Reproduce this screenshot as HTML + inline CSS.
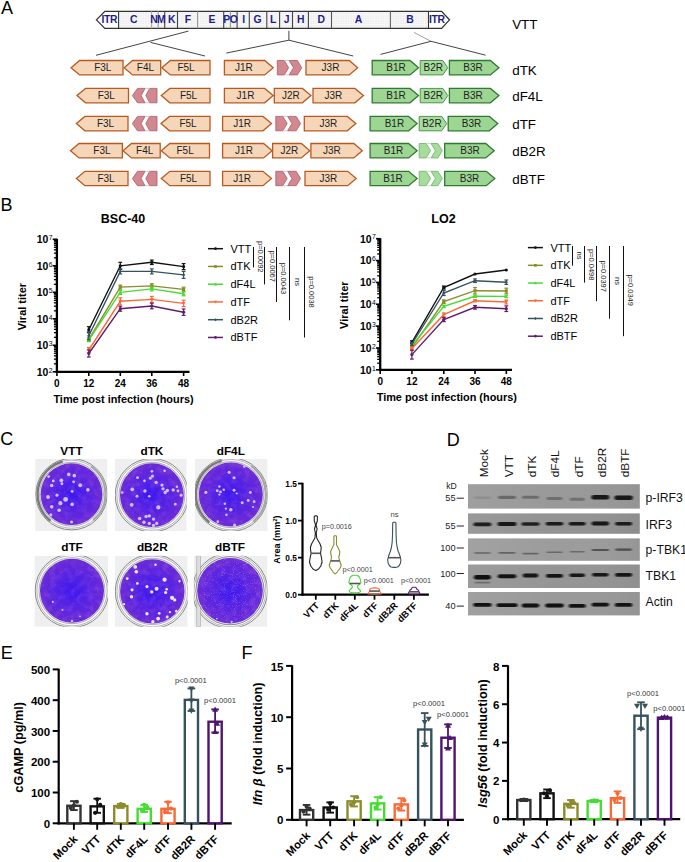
<!DOCTYPE html>
<html><head><meta charset="utf-8"><style>
html,body{margin:0;padding:0;background:#fff;}
svg{display:block;font-family:"Liberation Sans",sans-serif;}
</style></head><body>
<svg width="685" height="862" viewBox="0 0 685 862">
<rect width="685" height="862" fill="#fff"/>
<text x="1.00" y="13.90" font-size="18" text-anchor="start" fill="#000" >A</text>
<text x="0.60" y="210.80" font-size="18" text-anchor="start" fill="#000" >B</text>
<text x="0.30" y="444.90" font-size="18" text-anchor="start" fill="#000" >C</text>
<text x="446.70" y="445.80" font-size="18" text-anchor="start" fill="#000" >D</text>
<text x="0.80" y="659.30" font-size="18" text-anchor="start" fill="#000" >E</text>
<text x="241.60" y="659.30" font-size="18" text-anchor="start" fill="#000" >F</text>
<defs><pattern id="dots" width="2.5" height="2.5" patternUnits="userSpaceOnUse"><rect width="2.5" height="2.5" fill="#f7f7f7"/><rect x="0.5" y="0.5" width="1" height="1" fill="#e0e0e0"/></pattern></defs>
<polygon points="118.60,11.30 428.50,11.30 428.50,28.40 118.60,28.40" fill="url(#dots)" stroke="none" stroke-width="1" />
<polygon points="96.40,19.85 104.80,11.30 441.60,11.30 449.50,19.85 441.60,28.40 104.80,28.40" fill="none" stroke="#333" stroke-width="1.3" />
<line x1="118.60" y1="11.30" x2="118.60" y2="28.40" stroke="#333" stroke-width="1.1" />
<line x1="151.60" y1="11.30" x2="151.60" y2="28.40" stroke="#aaa" stroke-width="1.1" />
<line x1="158.20" y1="11.30" x2="158.20" y2="28.40" stroke="#999" stroke-width="1.1" />
<line x1="164.70" y1="11.30" x2="164.70" y2="28.40" stroke="#444" stroke-width="1.1" />
<line x1="177.50" y1="11.30" x2="177.50" y2="28.40" stroke="#444" stroke-width="1.1" />
<line x1="197.60" y1="11.30" x2="197.60" y2="28.40" stroke="#999" stroke-width="1.1" />
<line x1="223.70" y1="11.30" x2="223.70" y2="28.40" stroke="#444" stroke-width="1.1" />
<line x1="230.40" y1="11.30" x2="230.40" y2="28.40" stroke="#999" stroke-width="1.1" />
<line x1="237.10" y1="11.30" x2="237.10" y2="28.40" stroke="#444" stroke-width="1.1" />
<line x1="249.30" y1="11.30" x2="249.30" y2="28.40" stroke="#444" stroke-width="1.1" />
<line x1="266.80" y1="11.30" x2="266.80" y2="28.40" stroke="#444" stroke-width="1.1" />
<line x1="279.60" y1="11.30" x2="279.60" y2="28.40" stroke="#444" stroke-width="1.1" />
<line x1="292.50" y1="11.30" x2="292.50" y2="28.40" stroke="#444" stroke-width="1.1" />
<line x1="308.40" y1="11.30" x2="308.40" y2="28.40" stroke="#444" stroke-width="1.1" />
<line x1="331.50" y1="11.30" x2="331.50" y2="28.40" stroke="#555" stroke-width="1.1" />
<line x1="390.40" y1="11.30" x2="390.40" y2="28.40" stroke="#666" stroke-width="1.1" />
<line x1="428.50" y1="11.30" x2="428.50" y2="28.40" stroke="#333" stroke-width="1.1" />
<text x="109.40" y="22.80" font-size="10.4" font-weight="bold" text-anchor="middle" fill="#1d1d8c" letter-spacing="-0.35">ITR</text>
<text x="133.80" y="22.80" font-size="10.4" font-weight="bold" text-anchor="middle" fill="#1d1d8c" >C</text>
<text x="154.00" y="22.80" font-size="10.4" font-weight="bold" text-anchor="middle" fill="#1d1d8c" >N</text>
<text x="161.30" y="22.80" font-size="10.4" font-weight="bold" text-anchor="middle" fill="#1d1d8c" >M</text>
<text x="171.70" y="22.80" font-size="10.4" font-weight="bold" text-anchor="middle" fill="#1d1d8c" >K</text>
<text x="188.00" y="22.80" font-size="10.4" font-weight="bold" text-anchor="middle" fill="#1d1d8c" >F</text>
<text x="212.00" y="22.80" font-size="10.4" font-weight="bold" text-anchor="middle" fill="#1d1d8c" >E</text>
<text x="226.80" y="22.80" font-size="10.4" font-weight="bold" text-anchor="middle" fill="#1d1d8c" >P</text>
<text x="233.80" y="22.80" font-size="10.4" font-weight="bold" text-anchor="middle" fill="#1d1d8c" >O</text>
<text x="243.80" y="22.80" font-size="10.4" font-weight="bold" text-anchor="middle" fill="#1d1d8c" >I</text>
<text x="257.50" y="22.80" font-size="10.4" font-weight="bold" text-anchor="middle" fill="#1d1d8c" >G</text>
<text x="273.20" y="22.80" font-size="10.4" font-weight="bold" text-anchor="middle" fill="#1d1d8c" >L</text>
<text x="286.70" y="22.80" font-size="10.4" font-weight="bold" text-anchor="middle" fill="#1d1d8c" >J</text>
<text x="300.70" y="22.80" font-size="10.4" font-weight="bold" text-anchor="middle" fill="#1d1d8c" >H</text>
<text x="321.30" y="22.80" font-size="10.4" font-weight="bold" text-anchor="middle" fill="#1d1d8c" >D</text>
<text x="358.40" y="22.80" font-size="10.4" font-weight="bold" text-anchor="middle" fill="#1d1d8c" >A</text>
<text x="410.00" y="22.80" font-size="10.4" font-weight="bold" text-anchor="middle" fill="#1d1d8c" >B</text>
<text x="436.90" y="22.80" font-size="10.4" font-weight="bold" text-anchor="middle" fill="#1d1d8c" letter-spacing="-0.35">ITR</text>
<text x="512.20" y="28.90" font-size="13.4" text-anchor="start" fill="#000" >VTT</text>
<line x1="188.40" y1="31.10" x2="96.00" y2="55.30" stroke="#444" stroke-width="1" />
<line x1="150.50" y1="42.40" x2="205.00" y2="56.00" stroke="#444" stroke-width="1" />
<line x1="288.90" y1="30.80" x2="288.90" y2="40.20" stroke="#444" stroke-width="1" />
<line x1="288.90" y1="40.20" x2="226.30" y2="53.10" stroke="#444" stroke-width="1" />
<line x1="288.90" y1="40.20" x2="353.20" y2="56.00" stroke="#444" stroke-width="1" />
<line x1="413.90" y1="32.40" x2="431.00" y2="41.30" stroke="#888" stroke-width="0.8" />
<line x1="431.00" y1="41.30" x2="380.50" y2="54.40" stroke="#444" stroke-width="1" />
<line x1="431.00" y1="41.30" x2="485.60" y2="55.20" stroke="#444" stroke-width="1" />
<polygon points="71.10,67.70 79.60,60.50 123.00,60.50 123.00,74.90 79.60,74.90" fill="#f6d6b8" stroke="#b65a22" stroke-width="1.3" />
<text x="102.80" y="71.30" font-size="10" text-anchor="middle" fill="#222" >F3L</text>
<polygon points="124.10,67.70 132.60,60.50 160.70,60.50 160.70,74.90 132.60,74.90" fill="#f6d6b8" stroke="#b65a22" stroke-width="1.3" />
<text x="145.40" y="71.30" font-size="10" text-anchor="middle" fill="#222" >F4L</text>
<polygon points="161.80,67.70 170.30,60.50 210.00,60.50 210.00,74.90 170.30,74.90" fill="#f6d6b8" stroke="#b65a22" stroke-width="1.3" />
<text x="186.00" y="71.30" font-size="10" text-anchor="middle" fill="#222" >F5L</text>
<polygon points="224.40,60.50 264.70,60.50 273.20,67.70 264.70,74.90 224.40,74.90" fill="#f6d6b8" stroke="#b65a22" stroke-width="1.3" />
<text x="243.90" y="71.30" font-size="10" text-anchor="middle" fill="#222" >J1R</text>
<polygon points="306.00,60.50 349.20,60.50 357.70,67.70 349.20,74.90 306.00,74.90" fill="#f6d6b8" stroke="#b65a22" stroke-width="1.3" />
<text x="330.50" y="71.30" font-size="10" text-anchor="middle" fill="#222" >J3R</text>
<polygon points="277.30,60.50 284.30,60.50 288.70,67.70 284.30,74.90 277.30,74.90" fill="#d3878e" stroke="#a85c68" stroke-width="0.8" />
<polygon points="289.10,60.50 297.40,60.50 301.80,67.70 297.40,74.90 289.10,74.90 293.50,67.70" fill="#d3878e" stroke="#a85c68" stroke-width="0.8" />
<line x1="284.30" y1="60.50" x2="289.10" y2="60.50" stroke="#d8b8bc" stroke-width="0.8" />
<line x1="284.30" y1="74.90" x2="289.10" y2="74.90" stroke="#d8b8bc" stroke-width="0.8" />
<polygon points="372.20,60.50 410.00,60.50 418.50,67.70 410.00,74.90 372.20,74.90" fill="#9dd693" stroke="#2f7a30" stroke-width="1.3" />
<text x="396.00" y="71.30" font-size="10" text-anchor="middle" fill="#222" >B1R</text>
<polygon points="420.20,60.50 442.80,60.50 447.80,67.70 442.80,74.90 420.20,74.90" fill="#a6dc9c" stroke="#4f944c" stroke-width="1.0" />
<text x="433.30" y="71.30" font-size="10" text-anchor="middle" fill="#222" >B2R</text>
<polygon points="449.40,60.50 490.40,60.50 498.90,67.70 490.40,74.90 449.40,74.90" fill="#9dd693" stroke="#2f7a30" stroke-width="1.3" />
<text x="473.00" y="71.30" font-size="10" text-anchor="middle" fill="#222" >B3R</text>
<text x="512.20" y="74.60" font-size="13.4" text-anchor="start" fill="#000" >dTK</text>
<polygon points="77.00,95.60 85.50,88.40 128.50,88.40 128.50,102.80 85.50,102.80" fill="#f6d6b8" stroke="#b65a22" stroke-width="1.3" />
<text x="106.30" y="99.20" font-size="10" text-anchor="middle" fill="#222" >F3L</text>
<polygon points="161.30,95.60 169.80,88.40 210.00,88.40 210.00,102.80 169.80,102.80" fill="#f6d6b8" stroke="#b65a22" stroke-width="1.3" />
<text x="188.50" y="99.20" font-size="10" text-anchor="middle" fill="#222" >F5L</text>
<polygon points="132.40,95.60 137.50,88.40 145.00,88.40 141.10,95.60 145.00,102.80 137.50,102.80" fill="#d3878e" stroke="#a85c68" stroke-width="0.8" />
<polygon points="145.80,95.60 149.70,88.40 157.00,88.40 157.00,102.80 149.70,102.80" fill="#d3878e" stroke="#a85c68" stroke-width="0.8" />
<line x1="145.00" y1="88.40" x2="149.70" y2="88.40" stroke="#d8b8bc" stroke-width="0.8" />
<line x1="145.00" y1="102.80" x2="149.70" y2="102.80" stroke="#d8b8bc" stroke-width="0.8" />
<polygon points="224.40,88.40 264.70,88.40 273.20,95.60 264.70,102.80 224.40,102.80" fill="#f6d6b8" stroke="#b65a22" stroke-width="1.3" />
<text x="245.50" y="99.20" font-size="10" text-anchor="middle" fill="#222" >J1R</text>
<polygon points="274.30,88.40 302.40,88.40 310.90,95.60 302.40,102.80 274.30,102.80" fill="#f6d6b8" stroke="#b65a22" stroke-width="1.3" />
<text x="290.80" y="99.20" font-size="10" text-anchor="middle" fill="#222" >J2R</text>
<polygon points="313.00,88.40 354.90,88.40 363.40,95.60 354.90,102.80 313.00,102.80" fill="#f6d6b8" stroke="#b65a22" stroke-width="1.3" />
<text x="333.40" y="99.20" font-size="10" text-anchor="middle" fill="#222" >J3R</text>
<polygon points="372.20,88.40 410.00,88.40 418.50,95.60 410.00,102.80 372.20,102.80" fill="#9dd693" stroke="#2f7a30" stroke-width="1.3" />
<text x="396.00" y="99.20" font-size="10" text-anchor="middle" fill="#222" >B1R</text>
<polygon points="420.20,88.40 442.80,88.40 447.80,95.60 442.80,102.80 420.20,102.80" fill="#a6dc9c" stroke="#4f944c" stroke-width="1.0" />
<text x="433.30" y="99.20" font-size="10" text-anchor="middle" fill="#222" >B2R</text>
<polygon points="449.40,88.40 490.40,88.40 498.90,95.60 490.40,102.80 449.40,102.80" fill="#9dd693" stroke="#2f7a30" stroke-width="1.3" />
<text x="473.00" y="99.20" font-size="10" text-anchor="middle" fill="#222" >B3R</text>
<text x="512.20" y="101.00" font-size="13.4" text-anchor="start" fill="#000" >dF4L</text>
<polygon points="76.40,123.60 84.90,116.40 128.00,116.40 128.00,130.80 84.90,130.80" fill="#f6d6b8" stroke="#b65a22" stroke-width="1.3" />
<text x="105.50" y="127.20" font-size="10" text-anchor="middle" fill="#222" >F3L</text>
<polygon points="161.00,123.60 169.50,116.40 210.00,116.40 210.00,130.80 169.50,130.80" fill="#f6d6b8" stroke="#b65a22" stroke-width="1.3" />
<text x="188.00" y="127.20" font-size="10" text-anchor="middle" fill="#222" >F5L</text>
<polygon points="132.40,123.60 137.50,116.40 145.00,116.40 141.10,123.60 145.00,130.80 137.50,130.80" fill="#d3878e" stroke="#a85c68" stroke-width="0.8" />
<polygon points="145.80,123.60 149.70,116.40 157.00,116.40 157.00,130.80 149.70,130.80" fill="#d3878e" stroke="#a85c68" stroke-width="0.8" />
<line x1="145.00" y1="116.40" x2="149.70" y2="116.40" stroke="#d8b8bc" stroke-width="0.8" />
<line x1="145.00" y1="130.80" x2="149.70" y2="130.80" stroke="#d8b8bc" stroke-width="0.8" />
<polygon points="222.60,116.40 263.00,116.40 271.50,123.60 263.00,130.80 222.60,130.80" fill="#f6d6b8" stroke="#b65a22" stroke-width="1.3" />
<text x="242.20" y="127.20" font-size="10" text-anchor="middle" fill="#222" >J1R</text>
<polygon points="304.30,116.40 347.30,116.40 355.80,123.60 347.30,130.80 304.30,130.80" fill="#f6d6b8" stroke="#b65a22" stroke-width="1.3" />
<text x="328.40" y="127.20" font-size="10" text-anchor="middle" fill="#222" >J3R</text>
<polygon points="275.80,116.40 282.80,116.40 287.20,123.60 282.80,130.80 275.80,130.80" fill="#d3878e" stroke="#a85c68" stroke-width="0.8" />
<polygon points="287.60,116.40 296.20,116.40 300.60,123.60 296.20,130.80 287.60,130.80 292.00,123.60" fill="#d3878e" stroke="#a85c68" stroke-width="0.8" />
<line x1="282.80" y1="116.40" x2="287.60" y2="116.40" stroke="#d8b8bc" stroke-width="0.8" />
<line x1="282.80" y1="130.80" x2="287.60" y2="130.80" stroke="#d8b8bc" stroke-width="0.8" />
<polygon points="370.10,116.40 408.60,116.40 417.10,123.60 408.60,130.80 370.10,130.80" fill="#9dd693" stroke="#2f7a30" stroke-width="1.3" />
<text x="394.40" y="127.20" font-size="10" text-anchor="middle" fill="#222" >B1R</text>
<polygon points="419.20,116.40 441.70,116.40 446.70,123.60 441.70,130.80 419.20,130.80" fill="#a6dc9c" stroke="#4f944c" stroke-width="1.0" />
<text x="431.90" y="127.20" font-size="10" text-anchor="middle" fill="#222" >B2R</text>
<polygon points="448.20,116.40 489.30,116.40 497.80,123.60 489.30,130.80 448.20,130.80" fill="#9dd693" stroke="#2f7a30" stroke-width="1.3" />
<text x="471.60" y="127.20" font-size="10" text-anchor="middle" fill="#222" >B3R</text>
<text x="512.20" y="128.90" font-size="13.4" text-anchor="start" fill="#000" >dTF</text>
<polygon points="70.50,150.70 79.00,143.50 122.40,143.50 122.40,157.90 79.00,157.90" fill="#f6d6b8" stroke="#b65a22" stroke-width="1.3" />
<text x="101.90" y="154.30" font-size="10" text-anchor="middle" fill="#222" >F3L</text>
<polygon points="123.00,150.70 131.50,143.50 160.20,143.50 160.20,157.90 131.50,157.90" fill="#f6d6b8" stroke="#b65a22" stroke-width="1.3" />
<text x="144.70" y="154.30" font-size="10" text-anchor="middle" fill="#222" >F4L</text>
<polygon points="161.30,150.70 169.80,143.50 209.50,143.50 209.50,157.90 169.80,157.90" fill="#f6d6b8" stroke="#b65a22" stroke-width="1.3" />
<text x="185.10" y="154.30" font-size="10" text-anchor="middle" fill="#222" >F5L</text>
<polygon points="222.60,143.50 263.60,143.50 272.10,150.70 263.60,157.90 222.60,157.90" fill="#f6d6b8" stroke="#b65a22" stroke-width="1.3" />
<text x="244.00" y="154.30" font-size="10" text-anchor="middle" fill="#222" >J1R</text>
<polygon points="272.60,143.50 301.30,143.50 309.80,150.70 301.30,157.90 272.60,157.90" fill="#f6d6b8" stroke="#b65a22" stroke-width="1.3" />
<text x="289.30" y="154.30" font-size="10" text-anchor="middle" fill="#222" >J2R</text>
<polygon points="310.90,143.50 353.80,143.50 362.30,150.70 353.80,157.90 310.90,157.90" fill="#f6d6b8" stroke="#b65a22" stroke-width="1.3" />
<text x="331.90" y="154.30" font-size="10" text-anchor="middle" fill="#222" >J3R</text>
<polygon points="370.10,143.50 408.60,143.50 417.10,150.70 408.60,157.90 370.10,157.90" fill="#9dd693" stroke="#2f7a30" stroke-width="1.3" />
<text x="393.60" y="154.30" font-size="10" text-anchor="middle" fill="#222" >B1R</text>
<polygon points="444.70,143.50 485.70,143.50 494.20,150.70 485.70,157.90 444.70,157.90" fill="#9dd693" stroke="#2f7a30" stroke-width="1.3" />
<text x="470.00" y="154.30" font-size="10" text-anchor="middle" fill="#222" >B3R</text>
<polygon points="419.20,143.50 426.20,143.50 430.60,150.70 426.20,157.90 419.20,157.90" fill="#a6dc9c" stroke="#6fae6a" stroke-width="0.8" />
<polygon points="431.00,143.50 437.90,143.50 442.30,150.70 437.90,157.90 431.00,157.90 435.40,150.70" fill="#a6dc9c" stroke="#6fae6a" stroke-width="0.8" />
<line x1="426.20" y1="143.50" x2="431.00" y2="143.50" stroke="#b8d8b4" stroke-width="0.8" />
<line x1="426.20" y1="157.90" x2="431.00" y2="157.90" stroke="#b8d8b4" stroke-width="0.8" />
<text x="512.20" y="156.00" font-size="13.4" text-anchor="start" fill="#000" >dB2R</text>
<polygon points="76.40,178.50 84.90,171.30 128.00,171.30 128.00,185.70 84.90,185.70" fill="#f6d6b8" stroke="#b65a22" stroke-width="1.3" />
<text x="106.00" y="182.10" font-size="10" text-anchor="middle" fill="#222" >F3L</text>
<polygon points="161.30,178.50 169.80,171.30 210.00,171.30 210.00,185.70 169.80,185.70" fill="#f6d6b8" stroke="#b65a22" stroke-width="1.3" />
<text x="188.50" y="182.10" font-size="10" text-anchor="middle" fill="#222" >F5L</text>
<polygon points="132.40,178.50 137.50,171.30 145.00,171.30 141.10,178.50 145.00,185.70 137.50,185.70" fill="#d3878e" stroke="#a85c68" stroke-width="0.8" />
<polygon points="145.80,178.50 149.70,171.30 157.00,171.30 157.00,185.70 149.70,185.70" fill="#d3878e" stroke="#a85c68" stroke-width="0.8" />
<line x1="145.00" y1="171.30" x2="149.70" y2="171.30" stroke="#d8b8bc" stroke-width="0.8" />
<line x1="145.00" y1="185.70" x2="149.70" y2="185.70" stroke="#d8b8bc" stroke-width="0.8" />
<polygon points="222.60,171.30 263.00,171.30 271.50,178.50 263.00,185.70 222.60,185.70" fill="#f6d6b8" stroke="#b65a22" stroke-width="1.3" />
<text x="242.20" y="182.10" font-size="10" text-anchor="middle" fill="#222" >J1R</text>
<polygon points="305.00,171.30 347.70,171.30 356.20,178.50 347.70,185.70 305.00,185.70" fill="#f6d6b8" stroke="#b65a22" stroke-width="1.3" />
<text x="328.40" y="182.10" font-size="10" text-anchor="middle" fill="#222" >J3R</text>
<polygon points="275.80,171.30 282.80,171.30 287.20,178.50 282.80,185.70 275.80,185.70" fill="#d3878e" stroke="#a85c68" stroke-width="0.8" />
<polygon points="287.60,171.30 296.20,171.30 300.60,178.50 296.20,185.70 287.60,185.70 292.00,178.50" fill="#d3878e" stroke="#a85c68" stroke-width="0.8" />
<line x1="282.80" y1="171.30" x2="287.60" y2="171.30" stroke="#d8b8bc" stroke-width="0.8" />
<line x1="282.80" y1="185.70" x2="287.60" y2="185.70" stroke="#d8b8bc" stroke-width="0.8" />
<polygon points="370.10,171.30 408.60,171.30 417.10,178.50 408.60,185.70 370.10,185.70" fill="#9dd693" stroke="#2f7a30" stroke-width="1.3" />
<text x="393.00" y="182.10" font-size="10" text-anchor="middle" fill="#222" >B1R</text>
<polygon points="444.70,171.30 486.30,171.30 494.80,178.50 486.30,185.70 444.70,185.70" fill="#9dd693" stroke="#2f7a30" stroke-width="1.3" />
<text x="469.50" y="182.10" font-size="10" text-anchor="middle" fill="#222" >B3R</text>
<polygon points="419.20,171.30 426.20,171.30 430.60,178.50 426.20,185.70 419.20,185.70" fill="#a6dc9c" stroke="#6fae6a" stroke-width="0.8" />
<polygon points="431.00,171.30 437.90,171.30 442.30,178.50 437.90,185.70 431.00,185.70 435.40,178.50" fill="#a6dc9c" stroke="#6fae6a" stroke-width="0.8" />
<line x1="426.20" y1="171.30" x2="431.00" y2="171.30" stroke="#b8d8b4" stroke-width="0.8" />
<line x1="426.20" y1="185.70" x2="431.00" y2="185.70" stroke="#b8d8b4" stroke-width="0.8" />
<text x="512.20" y="183.90" font-size="13.4" text-anchor="start" fill="#000" >dBTF</text>
<line x1="56.90" y1="238.80" x2="56.90" y2="372.90" stroke="#000" stroke-width="2.3" />
<line x1="55.75" y1="371.80" x2="189.50" y2="371.80" stroke="#000" stroke-width="2.3" />
<line x1="52.70" y1="371.80" x2="56.90" y2="371.80" stroke="#000" stroke-width="1.6" />
<text x="48.30" y="375.70" font-size="10.4" font-weight="bold" text-anchor="end" fill="#000" >10</text>
<text x="48.80" y="372.50" font-size="6.8" text-anchor="start" fill="#000" >2</text>
<line x1="53.90" y1="363.82" x2="56.90" y2="363.82" stroke="#000" stroke-width="1.3" />
<line x1="53.90" y1="359.16" x2="56.90" y2="359.16" stroke="#000" stroke-width="1.3" />
<line x1="53.90" y1="355.85" x2="56.90" y2="355.85" stroke="#000" stroke-width="1.3" />
<line x1="53.90" y1="353.28" x2="56.90" y2="353.28" stroke="#000" stroke-width="1.3" />
<line x1="53.90" y1="351.18" x2="56.90" y2="351.18" stroke="#000" stroke-width="1.3" />
<line x1="53.90" y1="349.40" x2="56.90" y2="349.40" stroke="#000" stroke-width="1.3" />
<line x1="53.90" y1="347.87" x2="56.90" y2="347.87" stroke="#000" stroke-width="1.3" />
<line x1="53.90" y1="346.51" x2="56.90" y2="346.51" stroke="#000" stroke-width="1.3" />
<line x1="52.70" y1="345.30" x2="56.90" y2="345.30" stroke="#000" stroke-width="1.6" />
<text x="48.30" y="349.20" font-size="10.4" font-weight="bold" text-anchor="end" fill="#000" >10</text>
<text x="48.80" y="346.00" font-size="6.8" text-anchor="start" fill="#000" >3</text>
<line x1="53.90" y1="337.32" x2="56.90" y2="337.32" stroke="#000" stroke-width="1.3" />
<line x1="53.90" y1="332.66" x2="56.90" y2="332.66" stroke="#000" stroke-width="1.3" />
<line x1="53.90" y1="329.35" x2="56.90" y2="329.35" stroke="#000" stroke-width="1.3" />
<line x1="53.90" y1="326.78" x2="56.90" y2="326.78" stroke="#000" stroke-width="1.3" />
<line x1="53.90" y1="324.68" x2="56.90" y2="324.68" stroke="#000" stroke-width="1.3" />
<line x1="53.90" y1="322.90" x2="56.90" y2="322.90" stroke="#000" stroke-width="1.3" />
<line x1="53.90" y1="321.37" x2="56.90" y2="321.37" stroke="#000" stroke-width="1.3" />
<line x1="53.90" y1="320.01" x2="56.90" y2="320.01" stroke="#000" stroke-width="1.3" />
<line x1="52.70" y1="318.80" x2="56.90" y2="318.80" stroke="#000" stroke-width="1.6" />
<text x="48.30" y="322.70" font-size="10.4" font-weight="bold" text-anchor="end" fill="#000" >10</text>
<text x="48.80" y="319.50" font-size="6.8" text-anchor="start" fill="#000" >4</text>
<line x1="53.90" y1="310.82" x2="56.90" y2="310.82" stroke="#000" stroke-width="1.3" />
<line x1="53.90" y1="306.16" x2="56.90" y2="306.16" stroke="#000" stroke-width="1.3" />
<line x1="53.90" y1="302.85" x2="56.90" y2="302.85" stroke="#000" stroke-width="1.3" />
<line x1="53.90" y1="300.28" x2="56.90" y2="300.28" stroke="#000" stroke-width="1.3" />
<line x1="53.90" y1="298.18" x2="56.90" y2="298.18" stroke="#000" stroke-width="1.3" />
<line x1="53.90" y1="296.40" x2="56.90" y2="296.40" stroke="#000" stroke-width="1.3" />
<line x1="53.90" y1="294.87" x2="56.90" y2="294.87" stroke="#000" stroke-width="1.3" />
<line x1="53.90" y1="293.51" x2="56.90" y2="293.51" stroke="#000" stroke-width="1.3" />
<line x1="52.70" y1="292.30" x2="56.90" y2="292.30" stroke="#000" stroke-width="1.6" />
<text x="48.30" y="296.20" font-size="10.4" font-weight="bold" text-anchor="end" fill="#000" >10</text>
<text x="48.80" y="293.00" font-size="6.8" text-anchor="start" fill="#000" >5</text>
<line x1="53.90" y1="284.32" x2="56.90" y2="284.32" stroke="#000" stroke-width="1.3" />
<line x1="53.90" y1="279.66" x2="56.90" y2="279.66" stroke="#000" stroke-width="1.3" />
<line x1="53.90" y1="276.35" x2="56.90" y2="276.35" stroke="#000" stroke-width="1.3" />
<line x1="53.90" y1="273.78" x2="56.90" y2="273.78" stroke="#000" stroke-width="1.3" />
<line x1="53.90" y1="271.68" x2="56.90" y2="271.68" stroke="#000" stroke-width="1.3" />
<line x1="53.90" y1="269.90" x2="56.90" y2="269.90" stroke="#000" stroke-width="1.3" />
<line x1="53.90" y1="268.37" x2="56.90" y2="268.37" stroke="#000" stroke-width="1.3" />
<line x1="53.90" y1="267.01" x2="56.90" y2="267.01" stroke="#000" stroke-width="1.3" />
<line x1="52.70" y1="265.80" x2="56.90" y2="265.80" stroke="#000" stroke-width="1.6" />
<text x="48.30" y="269.70" font-size="10.4" font-weight="bold" text-anchor="end" fill="#000" >10</text>
<text x="48.80" y="266.50" font-size="6.8" text-anchor="start" fill="#000" >6</text>
<line x1="53.90" y1="257.82" x2="56.90" y2="257.82" stroke="#000" stroke-width="1.3" />
<line x1="53.90" y1="253.16" x2="56.90" y2="253.16" stroke="#000" stroke-width="1.3" />
<line x1="53.90" y1="249.85" x2="56.90" y2="249.85" stroke="#000" stroke-width="1.3" />
<line x1="53.90" y1="247.28" x2="56.90" y2="247.28" stroke="#000" stroke-width="1.3" />
<line x1="53.90" y1="245.18" x2="56.90" y2="245.18" stroke="#000" stroke-width="1.3" />
<line x1="53.90" y1="243.40" x2="56.90" y2="243.40" stroke="#000" stroke-width="1.3" />
<line x1="53.90" y1="241.87" x2="56.90" y2="241.87" stroke="#000" stroke-width="1.3" />
<line x1="53.90" y1="240.51" x2="56.90" y2="240.51" stroke="#000" stroke-width="1.3" />
<line x1="52.70" y1="239.30" x2="56.90" y2="239.30" stroke="#000" stroke-width="1.6" />
<text x="48.30" y="243.20" font-size="10.4" font-weight="bold" text-anchor="end" fill="#000" >10</text>
<text x="48.80" y="240.00" font-size="6.8" text-anchor="start" fill="#000" >7</text>
<line x1="56.90" y1="371.80" x2="56.90" y2="376.00" stroke="#000" stroke-width="1.6" />
<text x="56.90" y="387.00" font-size="10" font-weight="bold" text-anchor="middle" fill="#000" >0</text>
<line x1="88.80" y1="371.80" x2="88.80" y2="376.00" stroke="#000" stroke-width="1.6" />
<text x="88.80" y="387.00" font-size="10" font-weight="bold" text-anchor="middle" fill="#000" >12</text>
<line x1="120.30" y1="371.80" x2="120.30" y2="376.00" stroke="#000" stroke-width="1.6" />
<text x="120.30" y="387.00" font-size="10" font-weight="bold" text-anchor="middle" fill="#000" >24</text>
<line x1="151.80" y1="371.80" x2="151.80" y2="376.00" stroke="#000" stroke-width="1.6" />
<text x="151.80" y="387.00" font-size="10" font-weight="bold" text-anchor="middle" fill="#000" >36</text>
<line x1="183.60" y1="371.80" x2="183.60" y2="376.00" stroke="#000" stroke-width="1.6" />
<text x="183.60" y="387.00" font-size="10" font-weight="bold" text-anchor="middle" fill="#000" >48</text>
<text x="123.50" y="403.10" font-size="10.9" font-weight="bold" text-anchor="middle" fill="#000" >Time post infection (hours)</text>
<text x="123.00" y="223.30" font-size="12.5" font-weight="bold" text-anchor="middle" fill="#000" >BSC-40</text>
<text transform="translate(25.6,306.6) rotate(-90)" font-size="11" font-weight="bold" text-anchor="middle">Viral titer</text>
<polyline points="88.80,329.70 120.30,265.80 151.80,262.30 183.60,266.60" fill="none" stroke="#111111" stroke-width="1.4" />
<line x1="88.80" y1="326.70" x2="88.80" y2="332.70" stroke="#111111" stroke-width="1.2" />
<line x1="86.90" y1="326.70" x2="90.70" y2="326.70" stroke="#111111" stroke-width="1.2" />
<line x1="86.90" y1="332.70" x2="90.70" y2="332.70" stroke="#111111" stroke-width="1.2" />
<circle cx="88.80" cy="329.70" r="1.60" fill="#111111"/>
<line x1="120.30" y1="262.30" x2="120.30" y2="269.30" stroke="#111111" stroke-width="1.2" />
<line x1="118.40" y1="262.30" x2="122.20" y2="262.30" stroke="#111111" stroke-width="1.2" />
<line x1="118.40" y1="269.30" x2="122.20" y2="269.30" stroke="#111111" stroke-width="1.2" />
<circle cx="120.30" cy="265.80" r="1.60" fill="#111111"/>
<line x1="151.80" y1="260.10" x2="151.80" y2="264.50" stroke="#111111" stroke-width="1.2" />
<line x1="149.90" y1="260.10" x2="153.70" y2="260.10" stroke="#111111" stroke-width="1.2" />
<line x1="149.90" y1="264.50" x2="153.70" y2="264.50" stroke="#111111" stroke-width="1.2" />
<circle cx="151.80" cy="262.30" r="1.60" fill="#111111"/>
<line x1="183.60" y1="263.60" x2="183.60" y2="269.60" stroke="#111111" stroke-width="1.2" />
<line x1="181.70" y1="263.60" x2="185.50" y2="263.60" stroke="#111111" stroke-width="1.2" />
<line x1="181.70" y1="269.60" x2="185.50" y2="269.60" stroke="#111111" stroke-width="1.2" />
<circle cx="183.60" cy="266.60" r="1.60" fill="#111111"/>
<polyline points="88.80,339.30 120.30,287.10 151.80,285.90 183.60,289.40" fill="none" stroke="#8c8c2c" stroke-width="1.4" />
<line x1="88.80" y1="337.30" x2="88.80" y2="341.30" stroke="#8c8c2c" stroke-width="1.2" />
<line x1="86.90" y1="337.30" x2="90.70" y2="337.30" stroke="#8c8c2c" stroke-width="1.2" />
<line x1="86.90" y1="341.30" x2="90.70" y2="341.30" stroke="#8c8c2c" stroke-width="1.2" />
<rect x="87.20" y="337.70" width="3.20" height="3.20" fill="#8c8c2c"/>
<line x1="120.30" y1="285.10" x2="120.30" y2="289.10" stroke="#8c8c2c" stroke-width="1.2" />
<line x1="118.40" y1="285.10" x2="122.20" y2="285.10" stroke="#8c8c2c" stroke-width="1.2" />
<line x1="118.40" y1="289.10" x2="122.20" y2="289.10" stroke="#8c8c2c" stroke-width="1.2" />
<rect x="118.70" y="285.50" width="3.20" height="3.20" fill="#8c8c2c"/>
<line x1="151.80" y1="283.70" x2="151.80" y2="288.10" stroke="#8c8c2c" stroke-width="1.2" />
<line x1="149.90" y1="283.70" x2="153.70" y2="283.70" stroke="#8c8c2c" stroke-width="1.2" />
<line x1="149.90" y1="288.10" x2="153.70" y2="288.10" stroke="#8c8c2c" stroke-width="1.2" />
<rect x="150.20" y="284.30" width="3.20" height="3.20" fill="#8c8c2c"/>
<line x1="183.60" y1="287.20" x2="183.60" y2="291.60" stroke="#8c8c2c" stroke-width="1.2" />
<line x1="181.70" y1="287.20" x2="185.50" y2="287.20" stroke="#8c8c2c" stroke-width="1.2" />
<line x1="181.70" y1="291.60" x2="185.50" y2="291.60" stroke="#8c8c2c" stroke-width="1.2" />
<rect x="182.00" y="287.80" width="3.20" height="3.20" fill="#8c8c2c"/>
<polyline points="88.80,340.20 120.30,292.40 151.80,288.90 183.60,293.80" fill="none" stroke="#44dd33" stroke-width="1.4" />
<line x1="88.80" y1="338.70" x2="88.80" y2="341.70" stroke="#44dd33" stroke-width="1.2" />
<line x1="86.90" y1="338.70" x2="90.70" y2="338.70" stroke="#44dd33" stroke-width="1.2" />
<line x1="86.90" y1="341.70" x2="90.70" y2="341.70" stroke="#44dd33" stroke-width="1.2" />
<polygon points="88.80,338.30 90.70,341.72 86.90,341.72" fill="#44dd33" stroke="none" stroke-width="0" />
<line x1="120.30" y1="290.40" x2="120.30" y2="294.40" stroke="#44dd33" stroke-width="1.2" />
<line x1="118.40" y1="290.40" x2="122.20" y2="290.40" stroke="#44dd33" stroke-width="1.2" />
<line x1="118.40" y1="294.40" x2="122.20" y2="294.40" stroke="#44dd33" stroke-width="1.2" />
<polygon points="120.30,290.50 122.20,293.92 118.40,293.92" fill="#44dd33" stroke="none" stroke-width="0" />
<line x1="151.80" y1="286.90" x2="151.80" y2="290.90" stroke="#44dd33" stroke-width="1.2" />
<line x1="149.90" y1="286.90" x2="153.70" y2="286.90" stroke="#44dd33" stroke-width="1.2" />
<line x1="149.90" y1="290.90" x2="153.70" y2="290.90" stroke="#44dd33" stroke-width="1.2" />
<polygon points="151.80,287.00 153.70,290.42 149.90,290.42" fill="#44dd33" stroke="none" stroke-width="0" />
<line x1="183.60" y1="291.80" x2="183.60" y2="295.80" stroke="#44dd33" stroke-width="1.2" />
<line x1="181.70" y1="291.80" x2="185.50" y2="291.80" stroke="#44dd33" stroke-width="1.2" />
<line x1="181.70" y1="295.80" x2="185.50" y2="295.80" stroke="#44dd33" stroke-width="1.2" />
<polygon points="183.60,291.90 185.50,295.32 181.70,295.32" fill="#44dd33" stroke="none" stroke-width="0" />
<polyline points="88.80,350.00 120.30,301.30 151.80,299.40 183.60,303.40" fill="none" stroke="#fb6a36" stroke-width="1.4" />
<line x1="88.80" y1="347.50" x2="88.80" y2="352.50" stroke="#fb6a36" stroke-width="1.2" />
<line x1="86.90" y1="347.50" x2="90.70" y2="347.50" stroke="#fb6a36" stroke-width="1.2" />
<line x1="86.90" y1="352.50" x2="90.70" y2="352.50" stroke="#fb6a36" stroke-width="1.2" />
<polygon points="88.80,351.90 90.70,348.48 86.90,348.48" fill="#fb6a36" stroke="none" stroke-width="0" />
<line x1="120.30" y1="297.80" x2="120.30" y2="304.80" stroke="#fb6a36" stroke-width="1.2" />
<line x1="118.40" y1="297.80" x2="122.20" y2="297.80" stroke="#fb6a36" stroke-width="1.2" />
<line x1="118.40" y1="304.80" x2="122.20" y2="304.80" stroke="#fb6a36" stroke-width="1.2" />
<polygon points="120.30,303.20 122.20,299.78 118.40,299.78" fill="#fb6a36" stroke="none" stroke-width="0" />
<line x1="151.80" y1="296.40" x2="151.80" y2="302.40" stroke="#fb6a36" stroke-width="1.2" />
<line x1="149.90" y1="296.40" x2="153.70" y2="296.40" stroke="#fb6a36" stroke-width="1.2" />
<line x1="149.90" y1="302.40" x2="153.70" y2="302.40" stroke="#fb6a36" stroke-width="1.2" />
<polygon points="151.80,301.30 153.70,297.88 149.90,297.88" fill="#fb6a36" stroke="none" stroke-width="0" />
<line x1="183.60" y1="300.20" x2="183.60" y2="306.60" stroke="#fb6a36" stroke-width="1.2" />
<line x1="181.70" y1="300.20" x2="185.50" y2="300.20" stroke="#fb6a36" stroke-width="1.2" />
<line x1="181.70" y1="306.60" x2="185.50" y2="306.60" stroke="#fb6a36" stroke-width="1.2" />
<polygon points="183.60,305.30 185.50,301.88 181.70,301.88" fill="#fb6a36" stroke="none" stroke-width="0" />
<polyline points="88.80,335.80 120.30,271.40 151.80,271.40 183.60,274.90" fill="none" stroke="#37525f" stroke-width="1.4" />
<line x1="88.80" y1="331.80" x2="88.80" y2="339.80" stroke="#37525f" stroke-width="1.2" />
<line x1="86.90" y1="331.80" x2="90.70" y2="331.80" stroke="#37525f" stroke-width="1.2" />
<line x1="86.90" y1="339.80" x2="90.70" y2="339.80" stroke="#37525f" stroke-width="1.2" />
<polygon points="88.80,334.10 90.50,335.80 88.80,337.50 87.10,335.80" fill="#37525f" stroke="none" stroke-width="0" />
<line x1="120.30" y1="268.90" x2="120.30" y2="273.90" stroke="#37525f" stroke-width="1.2" />
<line x1="118.40" y1="268.90" x2="122.20" y2="268.90" stroke="#37525f" stroke-width="1.2" />
<line x1="118.40" y1="273.90" x2="122.20" y2="273.90" stroke="#37525f" stroke-width="1.2" />
<polygon points="120.30,269.70 122.00,271.40 120.30,273.10 118.60,271.40" fill="#37525f" stroke="none" stroke-width="0" />
<line x1="151.80" y1="268.90" x2="151.80" y2="273.90" stroke="#37525f" stroke-width="1.2" />
<line x1="149.90" y1="268.90" x2="153.70" y2="268.90" stroke="#37525f" stroke-width="1.2" />
<line x1="149.90" y1="273.90" x2="153.70" y2="273.90" stroke="#37525f" stroke-width="1.2" />
<polygon points="151.80,269.70 153.50,271.40 151.80,273.10 150.10,271.40" fill="#37525f" stroke="none" stroke-width="0" />
<line x1="183.60" y1="271.40" x2="183.60" y2="278.40" stroke="#37525f" stroke-width="1.2" />
<line x1="181.70" y1="271.40" x2="185.50" y2="271.40" stroke="#37525f" stroke-width="1.2" />
<line x1="181.70" y1="278.40" x2="185.50" y2="278.40" stroke="#37525f" stroke-width="1.2" />
<polygon points="183.60,273.20 185.30,274.90 183.60,276.60 181.90,274.90" fill="#37525f" stroke="none" stroke-width="0" />
<polyline points="88.80,353.50 120.30,308.70 151.80,306.00 183.60,312.20" fill="none" stroke="#621c6c" stroke-width="1.4" />
<line x1="88.80" y1="350.00" x2="88.80" y2="357.00" stroke="#621c6c" stroke-width="1.2" />
<line x1="86.90" y1="350.00" x2="90.70" y2="350.00" stroke="#621c6c" stroke-width="1.2" />
<line x1="86.90" y1="357.00" x2="90.70" y2="357.00" stroke="#621c6c" stroke-width="1.2" />
<circle cx="88.80" cy="353.50" r="1.60" fill="#621c6c"/>
<line x1="120.30" y1="306.20" x2="120.30" y2="311.20" stroke="#621c6c" stroke-width="1.2" />
<line x1="118.40" y1="306.20" x2="122.20" y2="306.20" stroke="#621c6c" stroke-width="1.2" />
<line x1="118.40" y1="311.20" x2="122.20" y2="311.20" stroke="#621c6c" stroke-width="1.2" />
<circle cx="120.30" cy="308.70" r="1.60" fill="#621c6c"/>
<line x1="151.80" y1="303.20" x2="151.80" y2="308.80" stroke="#621c6c" stroke-width="1.2" />
<line x1="149.90" y1="303.20" x2="153.70" y2="303.20" stroke="#621c6c" stroke-width="1.2" />
<line x1="149.90" y1="308.80" x2="153.70" y2="308.80" stroke="#621c6c" stroke-width="1.2" />
<circle cx="151.80" cy="306.00" r="1.60" fill="#621c6c"/>
<line x1="183.60" y1="309.00" x2="183.60" y2="315.40" stroke="#621c6c" stroke-width="1.2" />
<line x1="181.70" y1="309.00" x2="185.50" y2="309.00" stroke="#621c6c" stroke-width="1.2" />
<line x1="181.70" y1="315.40" x2="185.50" y2="315.40" stroke="#621c6c" stroke-width="1.2" />
<circle cx="183.60" cy="312.20" r="1.60" fill="#621c6c"/>
<line x1="208.00" y1="248.70" x2="223.00" y2="248.70" stroke="#111111" stroke-width="1.5" />
<circle cx="215.50" cy="248.70" r="1.36" fill="#111111"/>
<text x="230.50" y="252.70" font-size="11.0" text-anchor="start" fill="#000" >VTT</text>
<line x1="208.00" y1="266.45" x2="223.00" y2="266.45" stroke="#8c8c2c" stroke-width="1.5" />
<rect x="214.14" y="265.09" width="2.72" height="2.72" fill="#8c8c2c"/>
<text x="230.50" y="270.45" font-size="11.0" text-anchor="start" fill="#000" >dTK</text>
<line x1="208.00" y1="284.20" x2="223.00" y2="284.20" stroke="#44dd33" stroke-width="1.5" />
<polygon points="215.50,282.58 217.12,285.49 213.88,285.49" fill="#44dd33" stroke="none" stroke-width="0" />
<text x="230.50" y="288.20" font-size="11.0" text-anchor="start" fill="#000" >dF4L</text>
<line x1="208.00" y1="301.95" x2="223.00" y2="301.95" stroke="#fb6a36" stroke-width="1.5" />
<polygon points="215.50,303.56 217.12,300.66 213.88,300.66" fill="#fb6a36" stroke="none" stroke-width="0" />
<text x="230.50" y="305.95" font-size="11.0" text-anchor="start" fill="#000" >dTF</text>
<line x1="208.00" y1="319.70" x2="223.00" y2="319.70" stroke="#37525f" stroke-width="1.5" />
<polygon points="215.50,318.25 216.94,319.70 215.50,321.14 214.06,319.70" fill="#37525f" stroke="none" stroke-width="0" />
<text x="230.50" y="323.70" font-size="11.0" text-anchor="start" fill="#000" >dB2R</text>
<line x1="208.00" y1="337.45" x2="223.00" y2="337.45" stroke="#621c6c" stroke-width="1.5" />
<circle cx="215.50" cy="337.45" r="1.36" fill="#621c6c"/>
<text x="230.50" y="341.45" font-size="11.0" text-anchor="start" fill="#000" >dBTF</text>
<line x1="253.50" y1="247.00" x2="253.50" y2="267.40" stroke="#111" stroke-width="1.0" />
<text transform="translate(257.80,256.80) rotate(90)" font-size="7.5" text-anchor="middle" fill="#222">p=0.0092</text>
<line x1="264.50" y1="247.00" x2="264.50" y2="284.40" stroke="#111" stroke-width="1.0" />
<text transform="translate(269.70,266.20) rotate(90)" font-size="7.5" text-anchor="middle" fill="#222">p=0.0067</text>
<line x1="276.50" y1="247.00" x2="276.50" y2="302.00" stroke="#111" stroke-width="1.0" />
<text transform="translate(281.20,278.50) rotate(90)" font-size="7.5" text-anchor="middle" fill="#222">p=0.0043</text>
<line x1="289.50" y1="247.00" x2="289.50" y2="320.30" stroke="#111" stroke-width="1.0" />
<text transform="translate(294.60,282.00) rotate(90)" font-size="7.5" text-anchor="middle" fill="#222">ns</text>
<line x1="304.50" y1="247.00" x2="304.50" y2="337.50" stroke="#111" stroke-width="1.0" />
<text transform="translate(308.60,292.00) rotate(90)" font-size="7.5" text-anchor="middle" fill="#222">p=0.0038</text>
<line x1="380.20" y1="238.20" x2="380.20" y2="370.90" stroke="#000" stroke-width="2.3" />
<line x1="379.05" y1="369.80" x2="512.00" y2="369.80" stroke="#000" stroke-width="2.3" />
<line x1="376.00" y1="369.80" x2="380.20" y2="369.80" stroke="#000" stroke-width="1.6" />
<text x="371.60" y="373.70" font-size="10.4" font-weight="bold" text-anchor="end" fill="#000" >10</text>
<text x="372.10" y="370.50" font-size="6.8" text-anchor="start" fill="#000" >1</text>
<line x1="377.20" y1="363.22" x2="380.20" y2="363.22" stroke="#000" stroke-width="1.3" />
<line x1="377.20" y1="359.37" x2="380.20" y2="359.37" stroke="#000" stroke-width="1.3" />
<line x1="377.20" y1="356.64" x2="380.20" y2="356.64" stroke="#000" stroke-width="1.3" />
<line x1="377.20" y1="354.53" x2="380.20" y2="354.53" stroke="#000" stroke-width="1.3" />
<line x1="377.20" y1="352.80" x2="380.20" y2="352.80" stroke="#000" stroke-width="1.3" />
<line x1="377.20" y1="351.33" x2="380.20" y2="351.33" stroke="#000" stroke-width="1.3" />
<line x1="377.20" y1="350.07" x2="380.20" y2="350.07" stroke="#000" stroke-width="1.3" />
<line x1="377.20" y1="348.95" x2="380.20" y2="348.95" stroke="#000" stroke-width="1.3" />
<line x1="376.00" y1="347.95" x2="380.20" y2="347.95" stroke="#000" stroke-width="1.6" />
<text x="371.60" y="351.85" font-size="10.4" font-weight="bold" text-anchor="end" fill="#000" >10</text>
<text x="372.10" y="348.65" font-size="6.8" text-anchor="start" fill="#000" >2</text>
<line x1="377.20" y1="341.37" x2="380.20" y2="341.37" stroke="#000" stroke-width="1.3" />
<line x1="377.20" y1="337.52" x2="380.20" y2="337.52" stroke="#000" stroke-width="1.3" />
<line x1="377.20" y1="334.79" x2="380.20" y2="334.79" stroke="#000" stroke-width="1.3" />
<line x1="377.20" y1="332.68" x2="380.20" y2="332.68" stroke="#000" stroke-width="1.3" />
<line x1="377.20" y1="330.95" x2="380.20" y2="330.95" stroke="#000" stroke-width="1.3" />
<line x1="377.20" y1="329.48" x2="380.20" y2="329.48" stroke="#000" stroke-width="1.3" />
<line x1="377.20" y1="328.22" x2="380.20" y2="328.22" stroke="#000" stroke-width="1.3" />
<line x1="377.20" y1="327.10" x2="380.20" y2="327.10" stroke="#000" stroke-width="1.3" />
<line x1="376.00" y1="326.10" x2="380.20" y2="326.10" stroke="#000" stroke-width="1.6" />
<text x="371.60" y="330.00" font-size="10.4" font-weight="bold" text-anchor="end" fill="#000" >10</text>
<text x="372.10" y="326.80" font-size="6.8" text-anchor="start" fill="#000" >3</text>
<line x1="377.20" y1="319.52" x2="380.20" y2="319.52" stroke="#000" stroke-width="1.3" />
<line x1="377.20" y1="315.67" x2="380.20" y2="315.67" stroke="#000" stroke-width="1.3" />
<line x1="377.20" y1="312.94" x2="380.20" y2="312.94" stroke="#000" stroke-width="1.3" />
<line x1="377.20" y1="310.83" x2="380.20" y2="310.83" stroke="#000" stroke-width="1.3" />
<line x1="377.20" y1="309.10" x2="380.20" y2="309.10" stroke="#000" stroke-width="1.3" />
<line x1="377.20" y1="307.63" x2="380.20" y2="307.63" stroke="#000" stroke-width="1.3" />
<line x1="377.20" y1="306.37" x2="380.20" y2="306.37" stroke="#000" stroke-width="1.3" />
<line x1="377.20" y1="305.25" x2="380.20" y2="305.25" stroke="#000" stroke-width="1.3" />
<line x1="376.00" y1="304.25" x2="380.20" y2="304.25" stroke="#000" stroke-width="1.6" />
<text x="371.60" y="308.15" font-size="10.4" font-weight="bold" text-anchor="end" fill="#000" >10</text>
<text x="372.10" y="304.95" font-size="6.8" text-anchor="start" fill="#000" >4</text>
<line x1="377.20" y1="297.67" x2="380.20" y2="297.67" stroke="#000" stroke-width="1.3" />
<line x1="377.20" y1="293.82" x2="380.20" y2="293.82" stroke="#000" stroke-width="1.3" />
<line x1="377.20" y1="291.09" x2="380.20" y2="291.09" stroke="#000" stroke-width="1.3" />
<line x1="377.20" y1="288.98" x2="380.20" y2="288.98" stroke="#000" stroke-width="1.3" />
<line x1="377.20" y1="287.25" x2="380.20" y2="287.25" stroke="#000" stroke-width="1.3" />
<line x1="377.20" y1="285.78" x2="380.20" y2="285.78" stroke="#000" stroke-width="1.3" />
<line x1="377.20" y1="284.52" x2="380.20" y2="284.52" stroke="#000" stroke-width="1.3" />
<line x1="377.20" y1="283.40" x2="380.20" y2="283.40" stroke="#000" stroke-width="1.3" />
<line x1="376.00" y1="282.40" x2="380.20" y2="282.40" stroke="#000" stroke-width="1.6" />
<text x="371.60" y="286.30" font-size="10.4" font-weight="bold" text-anchor="end" fill="#000" >10</text>
<text x="372.10" y="283.10" font-size="6.8" text-anchor="start" fill="#000" >5</text>
<line x1="377.20" y1="275.82" x2="380.20" y2="275.82" stroke="#000" stroke-width="1.3" />
<line x1="377.20" y1="271.97" x2="380.20" y2="271.97" stroke="#000" stroke-width="1.3" />
<line x1="377.20" y1="269.24" x2="380.20" y2="269.24" stroke="#000" stroke-width="1.3" />
<line x1="377.20" y1="267.13" x2="380.20" y2="267.13" stroke="#000" stroke-width="1.3" />
<line x1="377.20" y1="265.40" x2="380.20" y2="265.40" stroke="#000" stroke-width="1.3" />
<line x1="377.20" y1="263.93" x2="380.20" y2="263.93" stroke="#000" stroke-width="1.3" />
<line x1="377.20" y1="262.67" x2="380.20" y2="262.67" stroke="#000" stroke-width="1.3" />
<line x1="377.20" y1="261.55" x2="380.20" y2="261.55" stroke="#000" stroke-width="1.3" />
<line x1="376.00" y1="260.55" x2="380.20" y2="260.55" stroke="#000" stroke-width="1.6" />
<text x="371.60" y="264.45" font-size="10.4" font-weight="bold" text-anchor="end" fill="#000" >10</text>
<text x="372.10" y="261.25" font-size="6.8" text-anchor="start" fill="#000" >6</text>
<line x1="377.20" y1="253.97" x2="380.20" y2="253.97" stroke="#000" stroke-width="1.3" />
<line x1="377.20" y1="250.12" x2="380.20" y2="250.12" stroke="#000" stroke-width="1.3" />
<line x1="377.20" y1="247.39" x2="380.20" y2="247.39" stroke="#000" stroke-width="1.3" />
<line x1="377.20" y1="245.28" x2="380.20" y2="245.28" stroke="#000" stroke-width="1.3" />
<line x1="377.20" y1="243.55" x2="380.20" y2="243.55" stroke="#000" stroke-width="1.3" />
<line x1="377.20" y1="242.08" x2="380.20" y2="242.08" stroke="#000" stroke-width="1.3" />
<line x1="377.20" y1="240.82" x2="380.20" y2="240.82" stroke="#000" stroke-width="1.3" />
<line x1="377.20" y1="239.70" x2="380.20" y2="239.70" stroke="#000" stroke-width="1.3" />
<line x1="376.00" y1="238.70" x2="380.20" y2="238.70" stroke="#000" stroke-width="1.6" />
<text x="371.60" y="242.60" font-size="10.4" font-weight="bold" text-anchor="end" fill="#000" >10</text>
<text x="372.10" y="239.40" font-size="6.8" text-anchor="start" fill="#000" >7</text>
<line x1="380.20" y1="369.80" x2="380.20" y2="374.00" stroke="#000" stroke-width="1.6" />
<text x="380.20" y="385.00" font-size="10" font-weight="bold" text-anchor="middle" fill="#000" >0</text>
<line x1="411.90" y1="369.80" x2="411.90" y2="374.00" stroke="#000" stroke-width="1.6" />
<text x="411.90" y="385.00" font-size="10" font-weight="bold" text-anchor="middle" fill="#000" >12</text>
<line x1="443.80" y1="369.80" x2="443.80" y2="374.00" stroke="#000" stroke-width="1.6" />
<text x="443.80" y="385.00" font-size="10" font-weight="bold" text-anchor="middle" fill="#000" >24</text>
<line x1="475.00" y1="369.80" x2="475.00" y2="374.00" stroke="#000" stroke-width="1.6" />
<text x="475.00" y="385.00" font-size="10" font-weight="bold" text-anchor="middle" fill="#000" >36</text>
<line x1="506.30" y1="369.80" x2="506.30" y2="374.00" stroke="#000" stroke-width="1.6" />
<text x="506.30" y="385.00" font-size="10" font-weight="bold" text-anchor="middle" fill="#000" >48</text>
<text x="446.80" y="401.10" font-size="10.9" font-weight="bold" text-anchor="middle" fill="#000" >Time post infection (hours)</text>
<text x="443.50" y="223.30" font-size="12.5" font-weight="bold" text-anchor="middle" fill="#000" >LO2</text>
<text transform="translate(348.4,305.2) rotate(-90)" font-size="11" font-weight="bold" text-anchor="middle">Viral titer</text>
<polyline points="411.90,342.30 443.80,287.50 475.00,274.00 506.30,270.00" fill="none" stroke="#111111" stroke-width="1.4" />
<line x1="411.90" y1="340.80" x2="411.90" y2="343.80" stroke="#111111" stroke-width="1.2" />
<line x1="410.00" y1="340.80" x2="413.80" y2="340.80" stroke="#111111" stroke-width="1.2" />
<line x1="410.00" y1="343.80" x2="413.80" y2="343.80" stroke="#111111" stroke-width="1.2" />
<circle cx="411.90" cy="342.30" r="1.60" fill="#111111"/>
<line x1="443.80" y1="286.00" x2="443.80" y2="289.00" stroke="#111111" stroke-width="1.2" />
<line x1="441.90" y1="286.00" x2="445.70" y2="286.00" stroke="#111111" stroke-width="1.2" />
<line x1="441.90" y1="289.00" x2="445.70" y2="289.00" stroke="#111111" stroke-width="1.2" />
<circle cx="443.80" cy="287.50" r="1.60" fill="#111111"/>
<circle cx="475.00" cy="274.00" r="1.60" fill="#111111"/>
<circle cx="506.30" cy="270.00" r="1.60" fill="#111111"/>
<polyline points="411.90,347.60 443.80,301.70 475.00,290.70 506.30,291.00" fill="none" stroke="#8c8c2c" stroke-width="1.4" />
<line x1="411.90" y1="345.10" x2="411.90" y2="350.10" stroke="#8c8c2c" stroke-width="1.2" />
<line x1="410.00" y1="345.10" x2="413.80" y2="345.10" stroke="#8c8c2c" stroke-width="1.2" />
<line x1="410.00" y1="350.10" x2="413.80" y2="350.10" stroke="#8c8c2c" stroke-width="1.2" />
<rect x="410.30" y="346.00" width="3.20" height="3.20" fill="#8c8c2c"/>
<line x1="443.80" y1="299.90" x2="443.80" y2="303.50" stroke="#8c8c2c" stroke-width="1.2" />
<line x1="441.90" y1="299.90" x2="445.70" y2="299.90" stroke="#8c8c2c" stroke-width="1.2" />
<line x1="441.90" y1="303.50" x2="445.70" y2="303.50" stroke="#8c8c2c" stroke-width="1.2" />
<rect x="442.20" y="300.10" width="3.20" height="3.20" fill="#8c8c2c"/>
<line x1="475.00" y1="287.50" x2="475.00" y2="293.90" stroke="#8c8c2c" stroke-width="1.2" />
<line x1="473.10" y1="287.50" x2="476.90" y2="287.50" stroke="#8c8c2c" stroke-width="1.2" />
<line x1="473.10" y1="293.90" x2="476.90" y2="293.90" stroke="#8c8c2c" stroke-width="1.2" />
<rect x="473.40" y="289.10" width="3.20" height="3.20" fill="#8c8c2c"/>
<line x1="506.30" y1="288.20" x2="506.30" y2="293.80" stroke="#8c8c2c" stroke-width="1.2" />
<line x1="504.40" y1="288.20" x2="508.20" y2="288.20" stroke="#8c8c2c" stroke-width="1.2" />
<line x1="504.40" y1="293.80" x2="508.20" y2="293.80" stroke="#8c8c2c" stroke-width="1.2" />
<rect x="504.70" y="289.40" width="3.20" height="3.20" fill="#8c8c2c"/>
<polyline points="411.90,345.80 443.80,306.40 475.00,296.30 506.30,296.40" fill="none" stroke="#44dd33" stroke-width="1.4" />
<line x1="411.90" y1="344.30" x2="411.90" y2="347.30" stroke="#44dd33" stroke-width="1.2" />
<line x1="410.00" y1="344.30" x2="413.80" y2="344.30" stroke="#44dd33" stroke-width="1.2" />
<line x1="410.00" y1="347.30" x2="413.80" y2="347.30" stroke="#44dd33" stroke-width="1.2" />
<polygon points="411.90,343.90 413.80,347.32 410.00,347.32" fill="#44dd33" stroke="none" stroke-width="0" />
<line x1="443.80" y1="305.20" x2="443.80" y2="307.60" stroke="#44dd33" stroke-width="1.2" />
<line x1="441.90" y1="305.20" x2="445.70" y2="305.20" stroke="#44dd33" stroke-width="1.2" />
<line x1="441.90" y1="307.60" x2="445.70" y2="307.60" stroke="#44dd33" stroke-width="1.2" />
<polygon points="443.80,304.50 445.70,307.92 441.90,307.92" fill="#44dd33" stroke="none" stroke-width="0" />
<line x1="475.00" y1="295.10" x2="475.00" y2="297.50" stroke="#44dd33" stroke-width="1.2" />
<line x1="473.10" y1="295.10" x2="476.90" y2="295.10" stroke="#44dd33" stroke-width="1.2" />
<line x1="473.10" y1="297.50" x2="476.90" y2="297.50" stroke="#44dd33" stroke-width="1.2" />
<polygon points="475.00,294.40 476.90,297.82 473.10,297.82" fill="#44dd33" stroke="none" stroke-width="0" />
<line x1="506.30" y1="295.20" x2="506.30" y2="297.60" stroke="#44dd33" stroke-width="1.2" />
<line x1="504.40" y1="295.20" x2="508.20" y2="295.20" stroke="#44dd33" stroke-width="1.2" />
<line x1="504.40" y1="297.60" x2="508.20" y2="297.60" stroke="#44dd33" stroke-width="1.2" />
<polygon points="506.30,294.50 508.20,297.92 504.40,297.92" fill="#44dd33" stroke="none" stroke-width="0" />
<polyline points="411.90,348.50 443.80,314.70 475.00,300.80 506.30,302.00" fill="none" stroke="#fb6a36" stroke-width="1.4" />
<line x1="411.90" y1="346.50" x2="411.90" y2="350.50" stroke="#fb6a36" stroke-width="1.2" />
<line x1="410.00" y1="346.50" x2="413.80" y2="346.50" stroke="#fb6a36" stroke-width="1.2" />
<line x1="410.00" y1="350.50" x2="413.80" y2="350.50" stroke="#fb6a36" stroke-width="1.2" />
<polygon points="411.90,350.40 413.80,346.98 410.00,346.98" fill="#fb6a36" stroke="none" stroke-width="0" />
<line x1="443.80" y1="312.90" x2="443.80" y2="316.50" stroke="#fb6a36" stroke-width="1.2" />
<line x1="441.90" y1="312.90" x2="445.70" y2="312.90" stroke="#fb6a36" stroke-width="1.2" />
<line x1="441.90" y1="316.50" x2="445.70" y2="316.50" stroke="#fb6a36" stroke-width="1.2" />
<polygon points="443.80,316.60 445.70,313.18 441.90,313.18" fill="#fb6a36" stroke="none" stroke-width="0" />
<line x1="475.00" y1="299.80" x2="475.00" y2="301.80" stroke="#fb6a36" stroke-width="1.2" />
<line x1="473.10" y1="299.80" x2="476.90" y2="299.80" stroke="#fb6a36" stroke-width="1.2" />
<line x1="473.10" y1="301.80" x2="476.90" y2="301.80" stroke="#fb6a36" stroke-width="1.2" />
<polygon points="475.00,302.70 476.90,299.28 473.10,299.28" fill="#fb6a36" stroke="none" stroke-width="0" />
<line x1="506.30" y1="300.00" x2="506.30" y2="304.00" stroke="#fb6a36" stroke-width="1.2" />
<line x1="504.40" y1="300.00" x2="508.20" y2="300.00" stroke="#fb6a36" stroke-width="1.2" />
<line x1="504.40" y1="304.00" x2="508.20" y2="304.00" stroke="#fb6a36" stroke-width="1.2" />
<polygon points="506.30,303.90 508.20,300.48 504.40,300.48" fill="#fb6a36" stroke="none" stroke-width="0" />
<polyline points="411.90,344.00 443.80,293.00 475.00,280.70 506.30,282.20" fill="none" stroke="#37525f" stroke-width="1.4" />
<line x1="411.90" y1="342.50" x2="411.90" y2="345.50" stroke="#37525f" stroke-width="1.2" />
<line x1="410.00" y1="342.50" x2="413.80" y2="342.50" stroke="#37525f" stroke-width="1.2" />
<line x1="410.00" y1="345.50" x2="413.80" y2="345.50" stroke="#37525f" stroke-width="1.2" />
<polygon points="411.90,342.30 413.60,344.00 411.90,345.70 410.20,344.00" fill="#37525f" stroke="none" stroke-width="0" />
<line x1="443.80" y1="290.50" x2="443.80" y2="295.50" stroke="#37525f" stroke-width="1.2" />
<line x1="441.90" y1="290.50" x2="445.70" y2="290.50" stroke="#37525f" stroke-width="1.2" />
<line x1="441.90" y1="295.50" x2="445.70" y2="295.50" stroke="#37525f" stroke-width="1.2" />
<polygon points="443.80,291.30 445.50,293.00 443.80,294.70 442.10,293.00" fill="#37525f" stroke="none" stroke-width="0" />
<line x1="475.00" y1="278.90" x2="475.00" y2="282.50" stroke="#37525f" stroke-width="1.2" />
<line x1="473.10" y1="278.90" x2="476.90" y2="278.90" stroke="#37525f" stroke-width="1.2" />
<line x1="473.10" y1="282.50" x2="476.90" y2="282.50" stroke="#37525f" stroke-width="1.2" />
<polygon points="475.00,279.00 476.70,280.70 475.00,282.40 473.30,280.70" fill="#37525f" stroke="none" stroke-width="0" />
<line x1="506.30" y1="280.00" x2="506.30" y2="284.40" stroke="#37525f" stroke-width="1.2" />
<line x1="504.40" y1="280.00" x2="508.20" y2="280.00" stroke="#37525f" stroke-width="1.2" />
<line x1="504.40" y1="284.40" x2="508.20" y2="284.40" stroke="#37525f" stroke-width="1.2" />
<polygon points="506.30,280.50 508.00,282.20 506.30,283.90 504.60,282.20" fill="#37525f" stroke="none" stroke-width="0" />
<polyline points="411.90,354.60 443.80,319.60 475.00,307.30 506.30,308.70" fill="none" stroke="#621c6c" stroke-width="1.4" />
<line x1="411.90" y1="350.10" x2="411.90" y2="359.10" stroke="#621c6c" stroke-width="1.2" />
<line x1="410.00" y1="350.10" x2="413.80" y2="350.10" stroke="#621c6c" stroke-width="1.2" />
<line x1="410.00" y1="359.10" x2="413.80" y2="359.10" stroke="#621c6c" stroke-width="1.2" />
<circle cx="411.90" cy="354.60" r="1.60" fill="#621c6c"/>
<line x1="443.80" y1="317.60" x2="443.80" y2="321.60" stroke="#621c6c" stroke-width="1.2" />
<line x1="441.90" y1="317.60" x2="445.70" y2="317.60" stroke="#621c6c" stroke-width="1.2" />
<line x1="441.90" y1="321.60" x2="445.70" y2="321.60" stroke="#621c6c" stroke-width="1.2" />
<circle cx="443.80" cy="319.60" r="1.60" fill="#621c6c"/>
<line x1="475.00" y1="305.50" x2="475.00" y2="309.10" stroke="#621c6c" stroke-width="1.2" />
<line x1="473.10" y1="305.50" x2="476.90" y2="305.50" stroke="#621c6c" stroke-width="1.2" />
<line x1="473.10" y1="309.10" x2="476.90" y2="309.10" stroke="#621c6c" stroke-width="1.2" />
<circle cx="475.00" cy="307.30" r="1.60" fill="#621c6c"/>
<line x1="506.30" y1="305.90" x2="506.30" y2="311.50" stroke="#621c6c" stroke-width="1.2" />
<line x1="504.40" y1="305.90" x2="508.20" y2="305.90" stroke="#621c6c" stroke-width="1.2" />
<line x1="504.40" y1="311.50" x2="508.20" y2="311.50" stroke="#621c6c" stroke-width="1.2" />
<circle cx="506.30" cy="308.70" r="1.60" fill="#621c6c"/>
<line x1="527.90" y1="247.60" x2="542.90" y2="247.60" stroke="#111111" stroke-width="1.5" />
<circle cx="535.40" cy="247.60" r="1.36" fill="#111111"/>
<text x="550.40" y="251.60" font-size="11.0" text-anchor="start" fill="#000" >VTT</text>
<line x1="527.90" y1="265.32" x2="542.90" y2="265.32" stroke="#8c8c2c" stroke-width="1.5" />
<rect x="534.04" y="263.96" width="2.72" height="2.72" fill="#8c8c2c"/>
<text x="550.40" y="269.32" font-size="11.0" text-anchor="start" fill="#000" >dTK</text>
<line x1="527.90" y1="283.04" x2="542.90" y2="283.04" stroke="#44dd33" stroke-width="1.5" />
<polygon points="535.40,281.42 537.01,284.33 533.78,284.33" fill="#44dd33" stroke="none" stroke-width="0" />
<text x="550.40" y="287.04" font-size="11.0" text-anchor="start" fill="#000" >dF4L</text>
<line x1="527.90" y1="300.76" x2="542.90" y2="300.76" stroke="#fb6a36" stroke-width="1.5" />
<polygon points="535.40,302.38 537.01,299.47 533.78,299.47" fill="#fb6a36" stroke="none" stroke-width="0" />
<text x="550.40" y="304.76" font-size="11.0" text-anchor="start" fill="#000" >dTF</text>
<line x1="527.90" y1="318.48" x2="542.90" y2="318.48" stroke="#37525f" stroke-width="1.5" />
<polygon points="535.40,317.04 536.85,318.48 535.40,319.93 533.95,318.48" fill="#37525f" stroke="none" stroke-width="0" />
<text x="550.40" y="322.48" font-size="11.0" text-anchor="start" fill="#000" >dB2R</text>
<line x1="527.90" y1="336.20" x2="542.90" y2="336.20" stroke="#621c6c" stroke-width="1.5" />
<circle cx="535.40" cy="336.20" r="1.36" fill="#621c6c"/>
<text x="550.40" y="340.20" font-size="11.0" text-anchor="start" fill="#000" >dBTF</text>
<line x1="572.50" y1="246.00" x2="572.50" y2="265.60" stroke="#111" stroke-width="1.0" />
<text transform="translate(577.00,255.50) rotate(90)" font-size="7.5" text-anchor="middle" fill="#222">ns</text>
<line x1="584.50" y1="246.00" x2="584.50" y2="282.60" stroke="#111" stroke-width="1.0" />
<text transform="translate(588.50,264.70) rotate(90)" font-size="7.5" text-anchor="middle" fill="#222">p=0.0498</text>
<line x1="596.50" y1="246.00" x2="596.50" y2="301.20" stroke="#111" stroke-width="1.0" />
<text transform="translate(601.00,276.20) rotate(90)" font-size="7.5" text-anchor="middle" fill="#222">p=0.0397</text>
<line x1="609.50" y1="246.00" x2="609.50" y2="318.70" stroke="#111" stroke-width="1.0" />
<text transform="translate(614.60,281.00) rotate(90)" font-size="7.5" text-anchor="middle" fill="#222">ns</text>
<line x1="623.50" y1="246.00" x2="623.50" y2="336.20" stroke="#111" stroke-width="1.0" />
<text transform="translate(628.20,290.20) rotate(90)" font-size="7.5" text-anchor="middle" fill="#222">p=0.0349</text>
<defs>
<radialGradient id="pg" cx="0.5" cy="0.5" r="0.5">
<stop offset="0" stop-color="#3a16f0"/><stop offset="0.45" stop-color="#5220e4"/><stop offset="1" stop-color="#6a2ad6"/></radialGradient>
<filter id="spk" x="0" y="0" width="1" height="1"><feTurbulence type="fractalNoise" baseFrequency="0.9" numOctaves="1" seed="3" result="n"/>
<feColorMatrix type="matrix" values="0 0 0 0 1  0 0 0 0 0.8  0 0 0 0 1  0 0 0 1.2 -0.55" in="n"/><feComposite in2="SourceGraphic" operator="in"/></filter>
<filter id="blur1"><feGaussianBlur stdDeviation="0.45"/></filter>
</defs>
<defs>
<filter id="mot" x="0" y="0" width="1" height="1" filterUnits="objectBoundingBox"><feTurbulence type="fractalNoise" baseFrequency="0.16" numOctaves="2" seed="11"/>
<feColorMatrix type="matrix" values="0 0 0 0 0.58  0 0 0 0 0.2  0 0 0 0 0.84  1.8 0 0 0 -0.72"/></filter>
<filter id="fsp" x="0" y="0" width="1" height="1" filterUnits="objectBoundingBox"><feTurbulence type="fractalNoise" baseFrequency="1.1" numOctaves="1" seed="5"/>
<feColorMatrix type="matrix" values="0 0 0 0 0.85  0 0 0 0 0.7  0 0 0 0 1  2.6 0 0 0 -1.45"/></filter>
<filter id="blur2"><feGaussianBlur stdDeviation="0.55"/></filter>
</defs>
<clipPath id="pc0"><rect x="35.1" y="459" width="72.3" height="72"/></clipPath>
<clipPath id="dc0"><circle cx="71.5" cy="494.2" r="30.9"/></clipPath>
<g clip-path="url(#pc0)">
<rect x="35.1" y="459" width="72.3" height="72" fill="#efefef"/>
<circle cx="-1.4" cy="421.3" r="35.4" fill="#f4f4f4" stroke="#bdbdbd" stroke-width="0.7"/>
<circle cx="144.4" cy="421.3" r="35.4" fill="#f4f4f4" stroke="#bdbdbd" stroke-width="0.7"/>
<circle cx="-1.4" cy="567.1" r="35.4" fill="#f4f4f4" stroke="#bdbdbd" stroke-width="0.7"/>
<circle cx="144.4" cy="567.1" r="35.4" fill="#f4f4f4" stroke="#bdbdbd" stroke-width="0.7"/>
<circle cx="71.5" cy="494.2" r="35.699999999999996" fill="#fafafa" stroke="#7c7c7c" stroke-width="0.9"/>
<circle cx="71.5" cy="494.2" r="34.1" fill="none" stroke="#9a9a9a" stroke-width="0.7"/>
<circle cx="71.5" cy="494.2" r="31.9" fill="#f0f0f0" stroke="#909090" stroke-width="0.7"/>
<path d="M62.7,461.5 A33.9,33.9 0 0 0 50.6,520.9" fill="none" stroke="#7a7a7a" stroke-width="2.4"/>
<path d="M90.9,466.4 A33.9,33.9 0 0 1 93.3,520.2" fill="none" stroke="#a8a8a8" stroke-width="2.2"/>
<circle cx="71.5" cy="494.2" r="30.9" fill="url(#pg)"/>
<rect x="40.6" y="463.3" width="61.8" height="61.8" filter="url(#mot)" clip-path="url(#dc0)" opacity="0.28"/>
<rect x="40.6" y="463.3" width="61.8" height="61.8" filter="url(#fsp)" clip-path="url(#dc0)" opacity="0.12"/>
<g filter="url(#blur2)" clip-path="url(#dc0)"><circle cx="68.72" cy="474.42" r="1.80" fill="#ddd4ff" fill-opacity="0.88"/><circle cx="74.28" cy="475.66" r="1.80" fill="#ddd4ff" fill-opacity="0.88"/><circle cx="61.30" cy="480.30" r="1.92" fill="#ddd4ff" fill-opacity="0.88"/><circle cx="53.27" cy="480.91" r="1.44" fill="#ddd4ff" fill-opacity="0.88"/><circle cx="51.72" cy="485.55" r="1.80" fill="#ddd4ff" fill-opacity="0.88"/><circle cx="73.66" cy="481.84" r="1.44" fill="#ddd4ff" fill-opacity="0.88"/><circle cx="80.15" cy="485.24" r="1.92" fill="#ddd4ff" fill-opacity="0.88"/><circle cx="87.88" cy="489.87" r="1.80" fill="#ddd4ff" fill-opacity="0.88"/><circle cx="72.12" cy="491.42" r="1.44" fill="#ddd4ff" fill-opacity="0.88"/><circle cx="56.98" cy="495.13" r="1.56" fill="#ddd4ff" fill-opacity="0.88"/><circle cx="48.02" cy="496.98" r="1.92" fill="#ddd4ff" fill-opacity="0.88"/><circle cx="65.63" cy="499.45" r="2.40" fill="#ddd4ff" fill-opacity="0.88"/><circle cx="60.38" cy="503.16" r="2.04" fill="#ddd4ff" fill-opacity="0.88"/><circle cx="72.12" cy="504.40" r="1.80" fill="#ddd4ff" fill-opacity="0.88"/><circle cx="51.72" cy="506.87" r="1.80" fill="#ddd4ff" fill-opacity="0.88"/><circle cx="59.14" cy="510.27" r="1.80" fill="#ddd4ff" fill-opacity="0.88"/><circle cx="50.80" cy="514.90" r="1.56" fill="#ddd4ff" fill-opacity="0.88"/><circle cx="48.63" cy="476.59" r="1.44" fill="#ddd4ff" fill-opacity="0.88"/><circle cx="71.50" cy="522.01" r="1.56" fill="#ddd4ff" fill-opacity="0.88"/><circle cx="61.92" cy="483.69" r="1.44" fill="#ddd4ff" fill-opacity="0.88"/></g>
</g>
<text x="71.50" y="454.50" font-size="11.8" font-weight="bold" text-anchor="middle" fill="#000" >VTT</text>
<clipPath id="pc1"><rect x="115" y="459" width="71.7" height="72"/></clipPath>
<clipPath id="dc1"><circle cx="151.9" cy="495.2" r="31.9"/></clipPath>
<g clip-path="url(#pc1)">
<rect x="115" y="459" width="71.7" height="72" fill="#efefef"/>
<circle cx="76.6" cy="419.9" r="36.4" fill="#f4f4f4" stroke="#bdbdbd" stroke-width="0.7"/>
<circle cx="227.2" cy="419.9" r="36.4" fill="#f4f4f4" stroke="#bdbdbd" stroke-width="0.7"/>
<circle cx="76.6" cy="570.5" r="36.4" fill="#f4f4f4" stroke="#bdbdbd" stroke-width="0.7"/>
<circle cx="227.2" cy="570.5" r="36.4" fill="#f4f4f4" stroke="#bdbdbd" stroke-width="0.7"/>
<circle cx="151.9" cy="495.2" r="36.699999999999996" fill="#fafafa" stroke="#7c7c7c" stroke-width="0.9"/>
<circle cx="151.9" cy="495.2" r="35.1" fill="none" stroke="#9a9a9a" stroke-width="0.7"/>
<circle cx="151.9" cy="495.2" r="32.9" fill="#f0f0f0" stroke="#909090" stroke-width="0.7"/>
<circle cx="151.9" cy="495.2" r="31.9" fill="url(#pg)"/>
<rect x="120.0" y="463.3" width="63.8" height="63.8" filter="url(#mot)" clip-path="url(#dc1)" opacity="0.28"/>
<rect x="120.0" y="463.3" width="63.8" height="63.8" filter="url(#fsp)" clip-path="url(#dc1)" opacity="0.12"/>
<g filter="url(#blur2)" clip-path="url(#dc1)"><circle cx="151.90" cy="471.27" r="1.37" fill="#ddd4ff" fill-opacity="0.88"/><circle cx="164.66" cy="470.74" r="1.26" fill="#ddd4ff" fill-opacity="0.88"/><circle cx="137.55" cy="477.65" r="1.47" fill="#ddd4ff" fill-opacity="0.88"/><circle cx="152.43" cy="476.06" r="1.58" fill="#ddd4ff" fill-opacity="0.88"/><circle cx="150.31" cy="478.19" r="1.47" fill="#ddd4ff" fill-opacity="0.88"/><circle cx="144.46" cy="480.84" r="1.37" fill="#ddd4ff" fill-opacity="0.88"/><circle cx="156.15" cy="482.44" r="1.68" fill="#ddd4ff" fill-opacity="0.88"/><circle cx="162.00" cy="485.10" r="1.68" fill="#ddd4ff" fill-opacity="0.88"/><circle cx="163.06" cy="488.82" r="1.68" fill="#ddd4ff" fill-opacity="0.88"/><circle cx="167.32" cy="490.41" r="1.78" fill="#ddd4ff" fill-opacity="0.88"/><circle cx="165.19" cy="492.54" r="1.68" fill="#ddd4ff" fill-opacity="0.88"/><circle cx="173.17" cy="489.88" r="1.68" fill="#ddd4ff" fill-opacity="0.88"/><circle cx="177.95" cy="490.95" r="1.37" fill="#ddd4ff" fill-opacity="0.88"/><circle cx="181.14" cy="495.20" r="1.58" fill="#ddd4ff" fill-opacity="0.88"/><circle cx="132.23" cy="489.35" r="1.89" fill="#ddd4ff" fill-opacity="0.88"/><circle cx="144.99" cy="490.95" r="1.68" fill="#ddd4ff" fill-opacity="0.88"/><circle cx="137.01" cy="496.26" r="1.47" fill="#ddd4ff" fill-opacity="0.88"/><circle cx="149.24" cy="496.26" r="1.26" fill="#ddd4ff" fill-opacity="0.88"/><circle cx="131.70" cy="504.77" r="1.89" fill="#ddd4ff" fill-opacity="0.88"/><circle cx="158.28" cy="507.43" r="2.10" fill="#ddd4ff" fill-opacity="0.88"/><circle cx="175.29" cy="504.24" r="1.37" fill="#ddd4ff" fill-opacity="0.88"/><circle cx="139.67" cy="518.59" r="1.78" fill="#ddd4ff" fill-opacity="0.88"/><circle cx="146.05" cy="516.47" r="1.68" fill="#ddd4ff" fill-opacity="0.88"/><circle cx="149.24" cy="515.93" r="1.68" fill="#ddd4ff" fill-opacity="0.88"/><circle cx="143.93" cy="522.31" r="1.78" fill="#ddd4ff" fill-opacity="0.88"/><circle cx="149.24" cy="523.38" r="1.68" fill="#ddd4ff" fill-opacity="0.88"/><circle cx="153.50" cy="519.12" r="1.58" fill="#ddd4ff" fill-opacity="0.88"/><circle cx="156.69" cy="523.38" r="1.58" fill="#ddd4ff" fill-opacity="0.88"/><circle cx="153.50" cy="525.50" r="1.68" fill="#ddd4ff" fill-opacity="0.88"/><circle cx="122.13" cy="492.54" r="1.26" fill="#ddd4ff" fill-opacity="0.88"/><circle cx="176.89" cy="486.69" r="1.26" fill="#ddd4ff" fill-opacity="0.88"/></g>
</g>
<text x="151.90" y="454.50" font-size="11.8" font-weight="bold" text-anchor="middle" fill="#000" >dTK</text>
<clipPath id="pc2"><rect x="195" y="459" width="72.6" height="72"/></clipPath>
<clipPath id="dc2"><circle cx="230.8" cy="494.6" r="32.0"/></clipPath>
<g clip-path="url(#pc2)">
<rect x="195" y="459" width="72.6" height="72" fill="#efefef"/>
<circle cx="155.3" cy="419.1" r="36.5" fill="#f4f4f4" stroke="#bdbdbd" stroke-width="0.7"/>
<circle cx="306.3" cy="419.1" r="36.5" fill="#f4f4f4" stroke="#bdbdbd" stroke-width="0.7"/>
<circle cx="155.3" cy="570.1" r="36.5" fill="#f4f4f4" stroke="#bdbdbd" stroke-width="0.7"/>
<circle cx="306.3" cy="570.1" r="36.5" fill="#f4f4f4" stroke="#bdbdbd" stroke-width="0.7"/>
<circle cx="230.8" cy="494.6" r="36.8" fill="#fafafa" stroke="#7c7c7c" stroke-width="0.9"/>
<circle cx="230.8" cy="494.6" r="35.2" fill="none" stroke="#9a9a9a" stroke-width="0.7"/>
<circle cx="230.8" cy="494.6" r="33.0" fill="#f0f0f0" stroke="#909090" stroke-width="0.7"/>
<path d="M221.7,460.8 A35.0,35.0 0 0 0 209.3,522.2" fill="none" stroke="#7a7a7a" stroke-width="2.4"/>
<path d="M250.9,465.9 A35.0,35.0 0 0 1 253.3,521.4" fill="none" stroke="#a8a8a8" stroke-width="2.2"/>
<circle cx="230.8" cy="494.6" r="32.0" fill="url(#pg)"/>
<rect x="198.8" y="462.6" width="64.0" height="64.0" filter="url(#mot)" clip-path="url(#dc2)" opacity="0.28"/>
<rect x="198.8" y="462.6" width="64.0" height="64.0" filter="url(#fsp)" clip-path="url(#dc2)" opacity="0.12"/>
<g filter="url(#blur2)" clip-path="url(#dc2)"><circle cx="229.17" cy="472.36" r="1.58" fill="#ddd4ff" fill-opacity="0.88"/><circle cx="234.05" cy="477.79" r="1.58" fill="#ddd4ff" fill-opacity="0.88"/><circle cx="244.36" cy="466.40" r="1.37" fill="#ddd4ff" fill-opacity="0.88"/><circle cx="219.41" cy="486.46" r="1.26" fill="#ddd4ff" fill-opacity="0.88"/><circle cx="217.24" cy="490.80" r="1.47" fill="#ddd4ff" fill-opacity="0.88"/><circle cx="220.49" cy="491.89" r="1.37" fill="#ddd4ff" fill-opacity="0.88"/><circle cx="223.75" cy="489.72" r="1.26" fill="#ddd4ff" fill-opacity="0.88"/><circle cx="219.41" cy="494.60" r="1.16" fill="#ddd4ff" fill-opacity="0.88"/><circle cx="205.85" cy="492.43" r="1.58" fill="#ddd4ff" fill-opacity="0.88"/><circle cx="234.05" cy="490.26" r="1.47" fill="#ddd4ff" fill-opacity="0.88"/><circle cx="236.77" cy="493.52" r="1.05" fill="#ddd4ff" fill-opacity="0.88"/><circle cx="250.33" cy="492.43" r="1.47" fill="#ddd4ff" fill-opacity="0.88"/><circle cx="224.83" cy="503.82" r="1.26" fill="#ddd4ff" fill-opacity="0.88"/><circle cx="242.19" cy="502.74" r="1.47" fill="#ddd4ff" fill-opacity="0.88"/><circle cx="248.16" cy="500.57" r="1.47" fill="#ddd4ff" fill-opacity="0.88"/><circle cx="254.12" cy="501.65" r="1.37" fill="#ddd4ff" fill-opacity="0.88"/><circle cx="253.04" cy="507.07" r="1.05" fill="#ddd4ff" fill-opacity="0.88"/><circle cx="230.80" cy="509.79" r="1.78" fill="#ddd4ff" fill-opacity="0.88"/><circle cx="225.92" cy="508.70" r="1.16" fill="#ddd4ff" fill-opacity="0.88"/><circle cx="226.46" cy="514.67" r="1.26" fill="#ddd4ff" fill-opacity="0.88"/><circle cx="217.78" cy="521.72" r="1.37" fill="#ddd4ff" fill-opacity="0.88"/><circle cx="234.60" cy="524.97" r="1.58" fill="#ddd4ff" fill-opacity="0.88"/></g>
</g>
<text x="230.80" y="454.50" font-size="11.8" font-weight="bold" text-anchor="middle" fill="#000" >dF4L</text>
<clipPath id="pc3"><rect x="34.4" y="555.8" width="73.6" height="71"/></clipPath>
<clipPath id="dc3"><circle cx="72.0" cy="590.7" r="32.0"/></clipPath>
<g clip-path="url(#pc3)">
<rect x="34.4" y="555.8" width="73.6" height="71" fill="#efefef"/>
<circle cx="-3.5" cy="515.2" r="36.5" fill="#f4f4f4" stroke="#bdbdbd" stroke-width="0.7"/>
<circle cx="147.5" cy="515.2" r="36.5" fill="#f4f4f4" stroke="#bdbdbd" stroke-width="0.7"/>
<circle cx="-3.5" cy="666.2" r="36.5" fill="#f4f4f4" stroke="#bdbdbd" stroke-width="0.7"/>
<circle cx="147.5" cy="666.2" r="36.5" fill="#f4f4f4" stroke="#bdbdbd" stroke-width="0.7"/>
<circle cx="72.0" cy="590.7" r="36.8" fill="#fafafa" stroke="#7c7c7c" stroke-width="0.9"/>
<circle cx="72.0" cy="590.7" r="35.2" fill="none" stroke="#9a9a9a" stroke-width="0.7"/>
<circle cx="72.0" cy="590.7" r="33.0" fill="#f0f0f0" stroke="#909090" stroke-width="0.7"/>
<circle cx="72.0" cy="590.7" r="32.0" fill="url(#pg)"/>
<rect x="40.0" y="558.7" width="64.0" height="64.0" filter="url(#mot)" clip-path="url(#dc3)" opacity="0.28"/>
<rect x="40.0" y="558.7" width="64.0" height="64.0" filter="url(#fsp)" clip-path="url(#dc3)" opacity="0.12"/>
<g filter="url(#blur2)" clip-path="url(#dc3)"><circle cx="52.80" cy="601.90" r="1.05" fill="#ddd4ff" fill-opacity="0.88"/><circle cx="62.40" cy="609.90" r="0.95" fill="#ddd4ff" fill-opacity="0.88"/><circle cx="72.00" cy="621.10" r="1.26" fill="#ddd4ff" fill-opacity="0.88"/><circle cx="80.00" cy="616.30" r="0.84" fill="#ddd4ff" fill-opacity="0.88"/></g>
</g>
<text x="72.00" y="551.30" font-size="11.8" font-weight="bold" text-anchor="middle" fill="#000" >dTF</text>
<clipPath id="pc4"><rect x="114.9" y="555.8" width="72.8" height="71"/></clipPath>
<clipPath id="dc4"><circle cx="152.3" cy="591.4" r="32.2"/></clipPath>
<g clip-path="url(#pc4)">
<rect x="114.9" y="555.8" width="72.8" height="71" fill="#efefef"/>
<circle cx="76.3" cy="515.4" r="36.7" fill="#f4f4f4" stroke="#bdbdbd" stroke-width="0.7"/>
<circle cx="228.3" cy="515.4" r="36.7" fill="#f4f4f4" stroke="#bdbdbd" stroke-width="0.7"/>
<circle cx="76.3" cy="667.4" r="36.7" fill="#f4f4f4" stroke="#bdbdbd" stroke-width="0.7"/>
<circle cx="228.3" cy="667.4" r="36.7" fill="#f4f4f4" stroke="#bdbdbd" stroke-width="0.7"/>
<circle cx="152.3" cy="591.4" r="37.0" fill="#fafafa" stroke="#7c7c7c" stroke-width="0.9"/>
<circle cx="152.3" cy="591.4" r="35.400000000000006" fill="none" stroke="#9a9a9a" stroke-width="0.7"/>
<circle cx="152.3" cy="591.4" r="33.2" fill="#f0f0f0" stroke="#909090" stroke-width="0.7"/>
<circle cx="152.3" cy="591.4" r="32.2" fill="url(#pg)"/>
<rect x="120.10000000000001" y="559.1999999999999" width="64.4" height="64.4" filter="url(#mot)" clip-path="url(#dc4)" opacity="0.28"/>
<rect x="120.10000000000001" y="559.1999999999999" width="64.4" height="64.4" filter="url(#fsp)" clip-path="url(#dc4)" opacity="0.12"/>
<g filter="url(#blur2)" clip-path="url(#dc4)"><circle cx="135.24" cy="566.88" r="1.89" fill="#f2eeff" fill-opacity="0.95"/><circle cx="136.31" cy="571.67" r="1.78" fill="#f2eeff" fill-opacity="0.95"/><circle cx="127.24" cy="578.61" r="1.47" fill="#f2eeff" fill-opacity="0.95"/><circle cx="137.37" cy="583.40" r="1.37" fill="#f2eeff" fill-opacity="0.95"/><circle cx="146.97" cy="586.60" r="1.58" fill="#f2eeff" fill-opacity="0.95"/><circle cx="155.50" cy="564.74" r="1.26" fill="#f2eeff" fill-opacity="0.95"/><circle cx="164.56" cy="579.67" r="2.10" fill="#f2eeff" fill-opacity="0.95"/><circle cx="156.56" cy="588.73" r="1.99" fill="#f2eeff" fill-opacity="0.95"/><circle cx="151.77" cy="591.93" r="1.68" fill="#f2eeff" fill-opacity="0.95"/><circle cx="132.04" cy="589.80" r="1.58" fill="#f2eeff" fill-opacity="0.95"/><circle cx="131.51" cy="596.73" r="1.68" fill="#f2eeff" fill-opacity="0.95"/><circle cx="166.69" cy="589.27" r="1.26" fill="#f2eeff" fill-opacity="0.95"/><circle cx="165.63" cy="592.47" r="1.58" fill="#f2eeff" fill-opacity="0.95"/><circle cx="172.03" cy="597.80" r="2.10" fill="#f2eeff" fill-opacity="0.95"/><circle cx="174.69" cy="599.93" r="1.68" fill="#f2eeff" fill-opacity="0.95"/><circle cx="124.05" cy="604.19" r="1.16" fill="#f2eeff" fill-opacity="0.95"/><circle cx="176.29" cy="611.13" r="1.26" fill="#f2eeff" fill-opacity="0.95"/><circle cx="146.97" cy="613.79" r="1.68" fill="#f2eeff" fill-opacity="0.95"/><circle cx="159.23" cy="613.26" r="1.37" fill="#f2eeff" fill-opacity="0.95"/><circle cx="158.16" cy="618.59" r="1.89" fill="#f2eeff" fill-opacity="0.95"/><circle cx="152.83" cy="621.79" r="1.68" fill="#f2eeff" fill-opacity="0.95"/><circle cx="167.23" cy="616.99" r="1.47" fill="#f2eeff" fill-opacity="0.95"/><circle cx="179.49" cy="581.27" r="1.16" fill="#f2eeff" fill-opacity="0.95"/><circle cx="169.89" cy="612.19" r="1.16" fill="#f2eeff" fill-opacity="0.95"/></g>
</g>
<text x="152.30" y="551.30" font-size="11.8" font-weight="bold" text-anchor="middle" fill="#000" >dB2R</text>
<clipPath id="pc5"><rect x="193.8" y="555.8" width="73.6" height="71"/></clipPath>
<clipPath id="dc5"><circle cx="230.0" cy="590.7" r="32.8"/></clipPath>
<g clip-path="url(#pc5)">
<rect x="193.8" y="555.8" width="73.6" height="71" fill="#efefef"/>
<circle cx="152.6" cy="513.3" r="37.3" fill="#f4f4f4" stroke="#bdbdbd" stroke-width="0.7"/>
<circle cx="307.4" cy="513.3" r="37.3" fill="#f4f4f4" stroke="#bdbdbd" stroke-width="0.7"/>
<circle cx="152.6" cy="668.1" r="37.3" fill="#f4f4f4" stroke="#bdbdbd" stroke-width="0.7"/>
<circle cx="307.4" cy="668.1" r="37.3" fill="#f4f4f4" stroke="#bdbdbd" stroke-width="0.7"/>
<circle cx="230.0" cy="590.7" r="37.599999999999994" fill="#fafafa" stroke="#7c7c7c" stroke-width="0.9"/>
<circle cx="230.0" cy="590.7" r="36.0" fill="none" stroke="#9a9a9a" stroke-width="0.7"/>
<circle cx="230.0" cy="590.7" r="33.8" fill="#f0f0f0" stroke="#909090" stroke-width="0.7"/>
<rect x="196.8" y="555.8" width="3.5" height="71" fill="#dedede" stroke="#a0a0a0" stroke-width="0.6"/>
<circle cx="230.0" cy="590.7" r="34.099999999999994" fill="#e8e8e8" stroke="#7a7a7a" stroke-width="0.8"/>
<circle cx="230.0" cy="590.7" r="32.8" fill="url(#pg)"/>
<rect x="197.2" y="557.9000000000001" width="65.6" height="65.6" filter="url(#mot)" clip-path="url(#dc5)" opacity="0.28"/>
<rect x="197.2" y="557.9000000000001" width="65.6" height="65.6" filter="url(#fsp)" clip-path="url(#dc5)" opacity="0.42"/>
<g filter="url(#blur2)" clip-path="url(#dc5)"><circle cx="231.64" cy="621.86" r="1.16" fill="#ddd4ff" fill-opacity="0.88"/><circle cx="216.88" cy="618.58" r="0.84" fill="#ddd4ff" fill-opacity="0.88"/></g>
</g>
<text x="230.00" y="551.30" font-size="11.8" font-weight="bold" text-anchor="middle" fill="#000" >dBTF</text>
<line x1="302.50" y1="482.80" x2="302.50" y2="595.80" stroke="#000" stroke-width="2.2" />
<line x1="301.40" y1="594.70" x2="428.90" y2="594.70" stroke="#000" stroke-width="2.2" />
<line x1="298.00" y1="594.70" x2="302.50" y2="594.70" stroke="#000" stroke-width="1.8" />
<text x="296.90" y="597.70" font-size="8.3" font-weight="bold" text-anchor="end" fill="#000" >0.0</text>
<line x1="298.00" y1="557.65" x2="302.50" y2="557.65" stroke="#000" stroke-width="1.8" />
<text x="296.90" y="560.65" font-size="8.3" font-weight="bold" text-anchor="end" fill="#000" >0.5</text>
<line x1="298.00" y1="520.60" x2="302.50" y2="520.60" stroke="#000" stroke-width="1.8" />
<text x="296.90" y="523.60" font-size="8.3" font-weight="bold" text-anchor="end" fill="#000" >1.0</text>
<line x1="298.00" y1="483.55" x2="302.50" y2="483.55" stroke="#000" stroke-width="1.8" />
<text x="296.90" y="486.55" font-size="8.3" font-weight="bold" text-anchor="end" fill="#000" >1.5</text>
<text transform="translate(280.0,539.5) rotate(-90)" font-size="9.1" font-weight="bold" text-anchor="middle">Area (mm<tspan font-size="6" dy="-3.5">2</tspan><tspan dy="3.5">)</tspan></text>
<line x1="315.80" y1="594.70" x2="315.80" y2="599.70" stroke="#000" stroke-width="1.8" />
<text transform="translate(319.80,606.10) rotate(-45)" font-size="9.4" font-weight="bold" text-anchor="end">VTT</text>
<line x1="335.30" y1="594.70" x2="335.30" y2="599.70" stroke="#000" stroke-width="1.8" />
<text transform="translate(339.30,606.10) rotate(-45)" font-size="9.4" font-weight="bold" text-anchor="end">dTK</text>
<line x1="354.80" y1="594.70" x2="354.80" y2="599.70" stroke="#000" stroke-width="1.8" />
<text transform="translate(358.80,606.10) rotate(-45)" font-size="9.4" font-weight="bold" text-anchor="end">dF4L</text>
<line x1="374.50" y1="594.70" x2="374.50" y2="599.70" stroke="#000" stroke-width="1.8" />
<text transform="translate(378.50,606.10) rotate(-45)" font-size="9.4" font-weight="bold" text-anchor="end">dTF</text>
<line x1="394.30" y1="594.70" x2="394.30" y2="599.70" stroke="#000" stroke-width="1.8" />
<text transform="translate(398.30,606.10) rotate(-45)" font-size="9.4" font-weight="bold" text-anchor="end">dB2R</text>
<line x1="413.90" y1="594.70" x2="413.90" y2="599.70" stroke="#000" stroke-width="1.8" />
<text transform="translate(417.90,606.10) rotate(-45)" font-size="9.4" font-weight="bold" text-anchor="end">dBTF</text>
<path d="M316.60,515.90 L317.40,516.40 L317.30,521.00 L316.00,525.00 L317.10,529.00 L316.20,533.00 L316.70,538.00 L318.40,541.00 L320.10,544.00 L321.20,547.50 L321.00,550.00 L320.50,553.30 L321.30,557.00 L322.10,562.00 L320.80,566.00 L318.60,569.00 L316.30,570.40 L315.30,570.40 L313.00,569.00 L310.80,566.00 L309.50,562.00 L310.30,557.00 L311.10,553.30 L310.60,550.00 L310.40,547.50 L311.50,544.00 L313.20,541.00 L314.90,538.00 L315.40,533.00 L314.50,529.00 L315.60,525.00 L314.30,521.00 L314.20,516.40 L315.00,515.90 Z" fill="none" stroke="#222" stroke-width="1.1" stroke-linejoin="round"/>
<line x1="311.10" y1="553.30" x2="320.50" y2="553.30" stroke="#555" stroke-width="1.6" />
<path d="M336.10,535.80 L336.50,536.50 L336.50,544.80 L338.20,548.00 L339.80,551.40 L339.40,555.00 L338.80,557.00 L339.70,561.00 L341.20,565.30 L340.20,568.00 L337.20,572.00 L335.70,573.70 L334.70,573.70 L333.20,572.00 L330.20,568.00 L329.20,565.30 L330.70,561.00 L331.60,557.00 L331.00,555.00 L330.60,551.40 L332.20,548.00 L333.90,544.80 L333.90,536.50 L334.30,535.80 Z" fill="none" stroke="#8c8c2c" stroke-width="1.1" stroke-linejoin="round"/>
<line x1="330.72" y1="560.90" x2="339.68" y2="560.90" stroke="#555" stroke-width="1.6" />
<path d="M355.90,575.20 L357.90,575.80 L359.40,577.00 L360.20,579.00 L360.90,582.50 L359.90,584.00 L357.90,585.50 L357.40,586.40 L357.90,588.00 L359.90,590.00 L360.70,591.50 L358.90,592.60 L355.90,592.80 L353.90,592.80 L350.90,592.60 L349.10,591.50 L349.90,590.00 L351.90,588.00 L352.40,586.40 L351.90,585.50 L349.90,584.00 L348.90,582.50 L349.60,579.00 L350.40,577.00 L351.90,575.80 L353.90,575.20 Z" fill="none" stroke="#44dd33" stroke-width="1.1" stroke-linejoin="round"/>
<line x1="349.57" y1="583.50" x2="360.23" y2="583.50" stroke="#555" stroke-width="1.6" />
<path d="M375.60,587.90 L377.60,588.20 L379.10,589.00 L379.60,590.30 L379.80,591.50 L380.90,593.00 L381.20,594.00 L375.40,594.30 L373.80,594.30 L368.00,594.00 L368.30,593.00 L369.40,591.50 L369.60,590.30 L370.10,589.00 L371.60,588.20 L373.60,587.90 Z" fill="none" stroke="#fb6a36" stroke-width="1.1" stroke-linejoin="round"/>
<line x1="369.47" y1="591.10" x2="379.73" y2="591.10" stroke="#555" stroke-width="1.6" />
<path d="M395.50,522.20 L395.90,523.00 L396.10,535.00 L396.40,542.00 L397.10,547.00 L398.10,551.00 L399.30,554.00 L400.30,557.00 L400.90,560.00 L400.50,563.00 L399.30,565.50 L397.50,567.00 L395.30,567.40 L393.30,567.40 L391.10,567.00 L389.30,565.50 L388.10,563.00 L387.70,560.00 L388.30,557.00 L389.30,554.00 L390.50,551.00 L391.50,547.00 L392.20,542.00 L392.50,535.00 L392.70,523.00 L393.10,522.20 Z" fill="none" stroke="#37525f" stroke-width="1.1" stroke-linejoin="round"/>
<line x1="388.16" y1="557.70" x2="400.44" y2="557.70" stroke="#555" stroke-width="1.6" />
<path d="M415.10,587.20 L416.10,587.60 L416.70,589.00 L418.10,590.00 L418.90,591.50 L419.70,593.00 L420.10,594.00 L414.90,594.30 L413.30,594.30 L408.10,594.00 L408.50,593.00 L409.30,591.50 L410.10,590.00 L411.50,589.00 L412.10,587.60 L413.10,587.20 Z" fill="none" stroke="#621c6c" stroke-width="1.1" stroke-linejoin="round"/>
<line x1="409.14" y1="591.80" x2="419.06" y2="591.80" stroke="#555" stroke-width="1.6" />
<text x="321.70" y="529.20" font-size="7.2" text-anchor="start" fill="#444" >p=0.0016</text>
<text x="342.60" y="572.40" font-size="7.2" text-anchor="start" fill="#444" >p&lt;0.0001</text>
<text x="363.70" y="582.60" font-size="7.2" text-anchor="start" fill="#444" >p&lt;0.0001</text>
<text x="390.60" y="517.00" font-size="7.6" text-anchor="start" fill="#444" >ns</text>
<text x="400.90" y="582.60" font-size="7.2" text-anchor="start" fill="#444" >p&lt;0.0001</text>
<text transform="translate(487.80,477.3) rotate(-90)" font-size="11.8" text-anchor="start" fill="#111">Mock</text>
<text transform="translate(512.50,477.3) rotate(-90)" font-size="11.8" text-anchor="start" fill="#111">VTT</text>
<text transform="translate(535.80,477.3) rotate(-90)" font-size="11.8" text-anchor="start" fill="#111">dTK</text>
<text transform="translate(559.20,477.3) rotate(-90)" font-size="11.8" text-anchor="start" fill="#111">dF4L</text>
<text transform="translate(582.60,477.3) rotate(-90)" font-size="11.8" text-anchor="start" fill="#111">dTF</text>
<text transform="translate(605.90,477.3) rotate(-90)" font-size="11.8" text-anchor="start" fill="#111">dB2R</text>
<text transform="translate(629.30,477.3) rotate(-90)" font-size="11.8" text-anchor="start" fill="#111">dBTF</text>
<text x="446.20" y="488.80" font-size="8.6" text-anchor="start" fill="#222" >kD</text>
<defs><filter id="bb" x="-0.2" y="-1" width="1.4" height="3"><feGaussianBlur stdDeviation="0.8 0.55"/></filter><linearGradient id="bg1" x1="0" y1="0" x2="1" y2="0"><stop offset="0" stop-color="#fff" stop-opacity="0.06"/><stop offset="0.5" stop-color="#fff" stop-opacity="0"/><stop offset="1" stop-color="#000" stop-opacity="0.04"/></linearGradient></defs>
<rect x="468.0" y="484.2" width="171.8" height="24.4" fill="#999999"/>
<rect x="468.0" y="484.2" width="171.8" height="24.4" fill="url(#bg1)"/>
<g filter="url(#bb)"><rect x="473.90" y="496.50" width="17.00" height="2.60" rx="1.30" fill="#0d0d0d" fill-opacity="0.1"/><rect x="498.00" y="495.70" width="18.00" height="3.20" rx="1.60" fill="#0d0d0d" fill-opacity="0.33"/><rect x="522.00" y="495.80" width="17.00" height="3.00" rx="1.50" fill="#0d0d0d" fill-opacity="0.3"/><rect x="546.50" y="497.10" width="16.00" height="3.00" rx="1.50" fill="#0d0d0d" fill-opacity="0.28"/><rect x="569.70" y="497.80" width="15.00" height="3.00" rx="1.50" fill="#0d0d0d" fill-opacity="0.27"/><rect x="591.30" y="495.10" width="18.00" height="4.40" rx="2.20" fill="#0d0d0d" fill-opacity="0.92"/><rect x="614.35" y="495.60" width="18.50" height="4.40" rx="2.20" fill="#0d0d0d" fill-opacity="0.92"/></g>
<text x="645.60" y="501.80" font-size="12.2" text-anchor="start" fill="#111" >p-IRF3</text>
<text x="455.60" y="501.40" font-size="9.2" text-anchor="end" fill="#222" >55</text>
<line x1="456.70" y1="498.20" x2="463.90" y2="498.20" stroke="#222" stroke-width="1.0" />
<rect x="468.0" y="513.4" width="171.8" height="20.4" fill="#939393"/>
<rect x="468.0" y="513.4" width="171.8" height="20.4" fill="url(#bg1)"/>
<g filter="url(#bb)"><rect x="473.40" y="522.60" width="18.00" height="3.60" rx="1.80" fill="#0d0d0d" fill-opacity="0.88"/><rect x="497.50" y="522.10" width="19.00" height="3.80" rx="1.90" fill="#0d0d0d" fill-opacity="0.92"/><rect x="521.50" y="522.20" width="18.00" height="3.60" rx="1.80" fill="#0d0d0d" fill-opacity="0.88"/><rect x="545.75" y="522.00" width="17.50" height="3.60" rx="1.80" fill="#0d0d0d" fill-opacity="0.9"/><rect x="568.70" y="522.00" width="17.00" height="3.60" rx="1.80" fill="#0d0d0d" fill-opacity="0.9"/><rect x="591.55" y="521.60" width="17.50" height="3.80" rx="1.90" fill="#0d0d0d" fill-opacity="0.92"/><rect x="615.10" y="522.00" width="17.00" height="3.60" rx="1.80" fill="#0d0d0d" fill-opacity="0.9"/></g>
<text x="645.60" y="528.70" font-size="12.2" text-anchor="start" fill="#111" >IRF3</text>
<text x="455.60" y="529.20" font-size="9.2" text-anchor="end" fill="#222" >55</text>
<line x1="456.70" y1="526.00" x2="463.90" y2="526.00" stroke="#222" stroke-width="1.0" />
<rect x="468.0" y="538.4" width="171.8" height="22.4" fill="#9c9c9c"/>
<rect x="468.0" y="538.4" width="171.8" height="22.4" fill="url(#bg1)"/>
<g filter="url(#bb)"><rect x="474.15" y="552.20" width="16.50" height="1.60" rx="0.80" fill="#0d0d0d" fill-opacity="0.38"/><rect x="498.50" y="551.95" width="17.00" height="1.70" rx="0.85" fill="#0d0d0d" fill-opacity="0.38"/><rect x="522.50" y="552.80" width="16.00" height="1.60" rx="0.80" fill="#0d0d0d" fill-opacity="0.36"/><rect x="546.50" y="551.40" width="16.00" height="1.60" rx="0.80" fill="#0d0d0d" fill-opacity="0.34"/><rect x="569.70" y="551.00" width="15.00" height="1.60" rx="0.80" fill="#0d0d0d" fill-opacity="0.32"/><rect x="591.80" y="548.90" width="17.00" height="2.20" rx="1.10" fill="#0d0d0d" fill-opacity="0.55"/><rect x="615.35" y="548.50" width="16.50" height="2.20" rx="1.10" fill="#0d0d0d" fill-opacity="0.55"/></g>
<text x="645.60" y="553.80" font-size="12.2" text-anchor="start" fill="#111" >p-TBK1</text>
<text x="455.60" y="551.20" font-size="9.2" text-anchor="end" fill="#222" >100</text>
<line x1="456.70" y1="548.00" x2="463.90" y2="548.00" stroke="#222" stroke-width="1.0" />
<rect x="468.0" y="564.5" width="171.8" height="23.5" fill="#959595"/>
<rect x="468.0" y="564.5" width="171.8" height="23.5" fill="url(#bg1)"/>
<g filter="url(#bb)"><rect x="473.90" y="575.00" width="17.00" height="4.40" rx="2.20" fill="#0d0d0d" fill-opacity="0.98"/><rect x="497.75" y="574.30" width="18.50" height="4.00" rx="2.00" fill="#0d0d0d" fill-opacity="0.95"/><rect x="522.75" y="573.60" width="15.50" height="3.80" rx="1.90" fill="#0d0d0d" fill-opacity="0.93"/><rect x="546.00" y="573.90" width="17.00" height="3.80" rx="1.90" fill="#0d0d0d" fill-opacity="0.94"/><rect x="569.45" y="573.50" width="15.50" height="3.60" rx="1.80" fill="#0d0d0d" fill-opacity="0.92"/><rect x="592.05" y="573.00" width="16.50" height="3.60" rx="1.80" fill="#0d0d0d" fill-opacity="0.92"/><rect x="615.10" y="572.90" width="17.00" height="3.80" rx="1.90" fill="#0d0d0d" fill-opacity="0.94"/><rect x="474.40" y="581.8" width="16" height="1.6" rx="0.8" fill="#111" fill-opacity="0.3"/></g>
<text x="645.60" y="579.80" font-size="12.2" text-anchor="start" fill="#111" >TBK1</text>
<text x="455.60" y="576.70" font-size="9.2" text-anchor="end" fill="#222" >100</text>
<line x1="456.70" y1="573.50" x2="463.90" y2="573.50" stroke="#222" stroke-width="1.0" />
<rect x="468.0" y="592.0" width="171.8" height="23.4" fill="#9a9a9a"/>
<rect x="468.0" y="592.0" width="171.8" height="23.4" fill="url(#bg1)"/>
<g filter="url(#bb)"><rect x="473.15" y="602.90" width="18.50" height="3.80" rx="1.90" fill="#0d0d0d" fill-opacity="0.97"/><rect x="496.50" y="603.30" width="21.00" height="3.80" rx="1.90" fill="#0d0d0d" fill-opacity="0.97"/><rect x="521.75" y="603.60" width="17.50" height="4.00" rx="2.00" fill="#0d0d0d" fill-opacity="0.97"/><rect x="545.25" y="603.60" width="18.50" height="4.00" rx="2.00" fill="#0d0d0d" fill-opacity="0.97"/><rect x="568.70" y="604.00" width="17.00" height="3.80" rx="1.90" fill="#0d0d0d" fill-opacity="0.97"/><rect x="591.55" y="602.70" width="17.50" height="3.80" rx="1.90" fill="#0d0d0d" fill-opacity="0.95"/><rect x="614.85" y="603.00" width="17.50" height="3.80" rx="1.90" fill="#0d0d0d" fill-opacity="0.95"/></g>
<text x="645.60" y="605.90" font-size="12.2" text-anchor="start" fill="#111" >Actin</text>
<text x="455.60" y="609.30" font-size="9.2" text-anchor="end" fill="#222" >40</text>
<line x1="456.70" y1="606.10" x2="463.90" y2="606.10" stroke="#222" stroke-width="1.0" />
<line x1="58.70" y1="668.80" x2="58.70" y2="824.40" stroke="#000" stroke-width="2.2" />
<line x1="57.60" y1="823.30" x2="231.70" y2="823.30" stroke="#000" stroke-width="2.2" />
<line x1="52.70" y1="823.30" x2="58.70" y2="823.30" stroke="#000" stroke-width="2.0" />
<text x="50.10" y="827.90" font-size="11.5" font-weight="bold" text-anchor="end" fill="#000" >0</text>
<line x1="52.70" y1="792.52" x2="58.70" y2="792.52" stroke="#000" stroke-width="2.0" />
<text x="50.10" y="797.12" font-size="11.5" font-weight="bold" text-anchor="end" fill="#000" >100</text>
<line x1="52.70" y1="761.74" x2="58.70" y2="761.74" stroke="#000" stroke-width="2.0" />
<text x="50.10" y="766.34" font-size="11.5" font-weight="bold" text-anchor="end" fill="#000" >200</text>
<line x1="52.70" y1="730.96" x2="58.70" y2="730.96" stroke="#000" stroke-width="2.0" />
<text x="50.10" y="735.56" font-size="11.5" font-weight="bold" text-anchor="end" fill="#000" >300</text>
<line x1="52.70" y1="700.18" x2="58.70" y2="700.18" stroke="#000" stroke-width="2.0" />
<text x="50.10" y="704.78" font-size="11.5" font-weight="bold" text-anchor="end" fill="#000" >400</text>
<line x1="52.70" y1="669.40" x2="58.70" y2="669.40" stroke="#000" stroke-width="2.0" />
<text x="50.10" y="674.00" font-size="11.5" font-weight="bold" text-anchor="end" fill="#000" >500</text>
<rect x="67.30" y="805.76" width="13.2" height="17.54" fill="#fff" stroke="#333333" stroke-width="2.4"/>
<line x1="73.90" y1="801.14" x2="73.90" y2="810.06" stroke="#333333" stroke-width="1.8" />
<line x1="70.10" y1="801.14" x2="77.70" y2="801.14" stroke="#333333" stroke-width="1.9" />
<line x1="70.10" y1="810.06" x2="77.70" y2="810.06" stroke="#333333" stroke-width="1.9" />
<circle cx="70.90" cy="807.91" r="2.1" fill="#333333"/>
<circle cx="76.90" cy="801.75" r="2.1" fill="#333333"/>
<circle cx="73.90" cy="805.45" r="2.1" fill="#333333"/>
<line x1="73.90" y1="823.30" x2="73.90" y2="829.80" stroke="#000" stroke-width="1.9" />
<text transform="translate(78.10,839.90) rotate(-45)" font-size="11.2" font-weight="bold" text-anchor="end">Mock</text>
<rect x="90.60" y="806.37" width="13.2" height="16.93" fill="#fff" stroke="#111111" stroke-width="2.4"/>
<line x1="97.20" y1="798.68" x2="97.20" y2="812.83" stroke="#111111" stroke-width="1.8" />
<line x1="93.40" y1="798.68" x2="101.00" y2="798.68" stroke="#111111" stroke-width="1.9" />
<line x1="93.40" y1="812.83" x2="101.00" y2="812.83" stroke="#111111" stroke-width="1.9" />
<circle cx="95.20" cy="812.83" r="2.1" fill="#111111"/>
<circle cx="100.20" cy="804.83" r="2.1" fill="#111111"/>
<circle cx="97.20" cy="799.29" r="2.1" fill="#111111"/>
<line x1="97.20" y1="823.30" x2="97.20" y2="829.80" stroke="#000" stroke-width="1.9" />
<text transform="translate(101.40,839.90) rotate(-45)" font-size="11.2" font-weight="bold" text-anchor="end">VTT</text>
<rect x="114.20" y="806.06" width="13.2" height="17.24" fill="#fff" stroke="#8c8c2c" stroke-width="2.4"/>
<line x1="120.80" y1="803.91" x2="120.80" y2="807.91" stroke="#8c8c2c" stroke-width="1.8" />
<line x1="117.00" y1="803.91" x2="124.60" y2="803.91" stroke="#8c8c2c" stroke-width="1.9" />
<line x1="117.00" y1="807.91" x2="124.60" y2="807.91" stroke="#8c8c2c" stroke-width="1.9" />
<circle cx="117.80" cy="806.68" r="2.1" fill="#8c8c2c"/>
<circle cx="123.80" cy="804.83" r="2.1" fill="#8c8c2c"/>
<circle cx="120.80" cy="804.22" r="2.1" fill="#8c8c2c"/>
<line x1="120.80" y1="823.30" x2="120.80" y2="829.80" stroke="#000" stroke-width="1.9" />
<text transform="translate(125.00,839.90) rotate(-45)" font-size="11.2" font-weight="bold" text-anchor="end">dTK</text>
<rect x="137.60" y="808.83" width="13.2" height="14.47" fill="#fff" stroke="#44dd33" stroke-width="2.4"/>
<line x1="144.20" y1="804.83" x2="144.20" y2="811.91" stroke="#44dd33" stroke-width="1.8" />
<line x1="140.40" y1="804.83" x2="148.00" y2="804.83" stroke="#44dd33" stroke-width="1.9" />
<line x1="140.40" y1="811.91" x2="148.00" y2="811.91" stroke="#44dd33" stroke-width="1.9" />
<circle cx="142.20" cy="810.37" r="2.1" fill="#44dd33"/>
<circle cx="147.20" cy="807.29" r="2.1" fill="#44dd33"/>
<circle cx="144.20" cy="804.83" r="2.1" fill="#44dd33"/>
<line x1="144.20" y1="823.30" x2="144.20" y2="829.80" stroke="#000" stroke-width="1.9" />
<text transform="translate(148.40,839.90) rotate(-45)" font-size="11.2" font-weight="bold" text-anchor="end">dF4L</text>
<rect x="161.40" y="808.83" width="13.2" height="14.47" fill="#fff" stroke="#fb6a36" stroke-width="2.4"/>
<line x1="168.00" y1="801.75" x2="168.00" y2="813.14" stroke="#fb6a36" stroke-width="1.8" />
<line x1="164.20" y1="801.75" x2="171.80" y2="801.75" stroke="#fb6a36" stroke-width="1.9" />
<line x1="164.20" y1="813.14" x2="171.80" y2="813.14" stroke="#fb6a36" stroke-width="1.9" />
<circle cx="165.00" cy="811.91" r="2.1" fill="#fb6a36"/>
<circle cx="171.00" cy="808.53" r="2.1" fill="#fb6a36"/>
<circle cx="168.00" cy="802.37" r="2.1" fill="#fb6a36"/>
<line x1="168.00" y1="823.30" x2="168.00" y2="829.80" stroke="#000" stroke-width="1.9" />
<text transform="translate(172.20,839.90) rotate(-45)" font-size="11.2" font-weight="bold" text-anchor="end">dTF</text>
<rect x="184.80" y="699.87" width="13.2" height="123.43" fill="#fff" stroke="#37525f" stroke-width="2.4"/>
<line x1="191.40" y1="688.48" x2="191.40" y2="710.95" stroke="#37525f" stroke-width="1.8" />
<line x1="187.60" y1="688.48" x2="195.20" y2="688.48" stroke="#37525f" stroke-width="1.9" />
<line x1="187.60" y1="710.95" x2="195.20" y2="710.95" stroke="#37525f" stroke-width="1.9" />
<polygon points="188.40,686.39 194.40,686.39 191.40,691.59" fill="#37525f" stroke="none" stroke-width="0" />
<polygon points="188.40,698.40 194.40,698.40 191.40,703.60" fill="#37525f" stroke="none" stroke-width="0" />
<polygon points="188.40,708.55 194.40,708.55 191.40,713.75" fill="#37525f" stroke="none" stroke-width="0" />
<line x1="191.40" y1="823.30" x2="191.40" y2="829.80" stroke="#000" stroke-width="1.9" />
<text transform="translate(195.60,839.90) rotate(-45)" font-size="11.2" font-weight="bold" text-anchor="end">dB2R</text>
<rect x="208.50" y="721.73" width="13.2" height="101.57" fill="#fff" stroke="#4e1470" stroke-width="2.4"/>
<line x1="215.10" y1="709.41" x2="215.10" y2="732.50" stroke="#4e1470" stroke-width="1.8" />
<line x1="211.30" y1="709.41" x2="218.90" y2="709.41" stroke="#4e1470" stroke-width="1.9" />
<line x1="211.30" y1="732.50" x2="218.90" y2="732.50" stroke="#4e1470" stroke-width="1.9" />
<polygon points="212.10,711.81 218.10,711.81 215.10,706.61" fill="#4e1470" stroke="none" stroke-width="0" />
<polygon points="214.10,725.66 220.10,725.66 217.10,720.47" fill="#4e1470" stroke="none" stroke-width="0" />
<polygon points="212.10,733.98 218.10,733.98 215.10,728.78" fill="#4e1470" stroke="none" stroke-width="0" />
<line x1="215.10" y1="823.30" x2="215.10" y2="829.80" stroke="#000" stroke-width="1.9" />
<text transform="translate(219.30,839.90) rotate(-45)" font-size="11.2" font-weight="bold" text-anchor="end">dBTF</text>
<text transform="translate(23.3,747.3) rotate(-90)" font-size="12.7" font-weight="bold" text-anchor="middle">cGAMP (pg/ml)</text>
<text x="174.90" y="683.30" font-size="7.6" text-anchor="start" fill="#333" >p&lt;0.0001</text>
<text x="204.10" y="703.20" font-size="7.6" text-anchor="start" fill="#333" >p&lt;0.0001</text>
<line x1="292.10" y1="665.30" x2="292.10" y2="820.90" stroke="#000" stroke-width="2.2" />
<line x1="291.00" y1="819.80" x2="463.90" y2="819.80" stroke="#000" stroke-width="2.2" />
<line x1="286.10" y1="819.80" x2="292.10" y2="819.80" stroke="#000" stroke-width="2.0" />
<text x="283.50" y="824.40" font-size="11.5" font-weight="bold" text-anchor="end" fill="#000" >0</text>
<line x1="286.10" y1="768.50" x2="292.10" y2="768.50" stroke="#000" stroke-width="2.0" />
<text x="283.50" y="773.10" font-size="11.5" font-weight="bold" text-anchor="end" fill="#000" >5</text>
<line x1="286.10" y1="717.20" x2="292.10" y2="717.20" stroke="#000" stroke-width="2.0" />
<text x="283.50" y="721.80" font-size="11.5" font-weight="bold" text-anchor="end" fill="#000" >10</text>
<line x1="286.10" y1="665.90" x2="292.10" y2="665.90" stroke="#000" stroke-width="2.0" />
<text x="283.50" y="670.50" font-size="11.5" font-weight="bold" text-anchor="end" fill="#000" >15</text>
<rect x="300.00" y="810.05" width="13.2" height="9.75" fill="#fff" stroke="#333333" stroke-width="2.4"/>
<line x1="306.60" y1="804.92" x2="306.60" y2="814.67" stroke="#333333" stroke-width="1.8" />
<line x1="302.80" y1="804.92" x2="310.40" y2="804.92" stroke="#333333" stroke-width="1.9" />
<line x1="302.80" y1="814.67" x2="310.40" y2="814.67" stroke="#333333" stroke-width="1.9" />
<circle cx="303.60" cy="811.59" r="2.1" fill="#333333"/>
<circle cx="309.60" cy="808.51" r="2.1" fill="#333333"/>
<circle cx="306.60" cy="806.46" r="2.1" fill="#333333"/>
<line x1="306.60" y1="819.80" x2="306.60" y2="826.30" stroke="#000" stroke-width="1.9" />
<text transform="translate(310.80,836.40) rotate(-45)" font-size="11.2" font-weight="bold" text-anchor="end">Mock</text>
<rect x="323.60" y="807.49" width="13.2" height="12.31" fill="#fff" stroke="#111111" stroke-width="2.4"/>
<line x1="330.20" y1="802.36" x2="330.20" y2="812.62" stroke="#111111" stroke-width="1.8" />
<line x1="326.40" y1="802.36" x2="334.00" y2="802.36" stroke="#111111" stroke-width="1.9" />
<line x1="326.40" y1="812.62" x2="334.00" y2="812.62" stroke="#111111" stroke-width="1.9" />
<circle cx="328.20" cy="809.54" r="2.1" fill="#111111"/>
<circle cx="333.20" cy="807.49" r="2.1" fill="#111111"/>
<circle cx="330.20" cy="803.38" r="2.1" fill="#111111"/>
<line x1="330.20" y1="819.80" x2="330.20" y2="826.30" stroke="#000" stroke-width="1.9" />
<text transform="translate(334.40,836.40) rotate(-45)" font-size="11.2" font-weight="bold" text-anchor="end">VTT</text>
<rect x="347.50" y="801.33" width="13.2" height="18.47" fill="#fff" stroke="#8c8c2c" stroke-width="2.4"/>
<line x1="354.10" y1="796.20" x2="354.10" y2="806.46" stroke="#8c8c2c" stroke-width="1.8" />
<line x1="350.30" y1="796.20" x2="357.90" y2="796.20" stroke="#8c8c2c" stroke-width="1.9" />
<line x1="350.30" y1="806.46" x2="357.90" y2="806.46" stroke="#8c8c2c" stroke-width="1.9" />
<circle cx="351.10" cy="804.41" r="2.1" fill="#8c8c2c"/>
<circle cx="357.10" cy="797.23" r="2.1" fill="#8c8c2c"/>
<circle cx="354.10" cy="802.36" r="2.1" fill="#8c8c2c"/>
<line x1="354.10" y1="819.80" x2="354.10" y2="826.30" stroke="#000" stroke-width="1.9" />
<text transform="translate(358.30,836.40) rotate(-45)" font-size="11.2" font-weight="bold" text-anchor="end">dTK</text>
<rect x="371.00" y="803.38" width="13.2" height="16.42" fill="#fff" stroke="#44dd33" stroke-width="2.4"/>
<line x1="377.60" y1="797.23" x2="377.60" y2="809.54" stroke="#44dd33" stroke-width="1.8" />
<line x1="373.80" y1="797.23" x2="381.40" y2="797.23" stroke="#44dd33" stroke-width="1.9" />
<line x1="373.80" y1="809.54" x2="381.40" y2="809.54" stroke="#44dd33" stroke-width="1.9" />
<circle cx="375.60" cy="807.49" r="2.1" fill="#44dd33"/>
<circle cx="380.60" cy="797.23" r="2.1" fill="#44dd33"/>
<circle cx="377.60" cy="804.41" r="2.1" fill="#44dd33"/>
<line x1="377.60" y1="819.80" x2="377.60" y2="826.30" stroke="#000" stroke-width="1.9" />
<text transform="translate(381.80,836.40) rotate(-45)" font-size="11.2" font-weight="bold" text-anchor="end">dF4L</text>
<rect x="394.70" y="804.41" width="13.2" height="15.39" fill="#fff" stroke="#fb6a36" stroke-width="2.4"/>
<line x1="401.30" y1="798.25" x2="401.30" y2="810.57" stroke="#fb6a36" stroke-width="1.8" />
<line x1="397.50" y1="798.25" x2="405.10" y2="798.25" stroke="#fb6a36" stroke-width="1.9" />
<line x1="397.50" y1="810.57" x2="405.10" y2="810.57" stroke="#fb6a36" stroke-width="1.9" />
<circle cx="398.30" cy="808.51" r="2.1" fill="#fb6a36"/>
<circle cx="404.30" cy="800.31" r="2.1" fill="#fb6a36"/>
<circle cx="401.30" cy="805.44" r="2.1" fill="#fb6a36"/>
<line x1="401.30" y1="819.80" x2="401.30" y2="826.30" stroke="#000" stroke-width="1.9" />
<text transform="translate(405.50,836.40) rotate(-45)" font-size="11.2" font-weight="bold" text-anchor="end">dTF</text>
<rect x="418.10" y="729.51" width="13.2" height="90.29" fill="#fff" stroke="#37525f" stroke-width="2.4"/>
<line x1="424.70" y1="713.10" x2="424.70" y2="745.93" stroke="#37525f" stroke-width="1.8" />
<line x1="420.90" y1="713.10" x2="428.50" y2="713.10" stroke="#37525f" stroke-width="1.9" />
<line x1="420.90" y1="745.93" x2="428.50" y2="745.93" stroke="#37525f" stroke-width="1.9" />
<polygon points="421.70,719.93 427.70,719.93 424.70,725.13" fill="#37525f" stroke="none" stroke-width="0" />
<polygon points="425.70,716.85 431.70,716.85 428.70,722.05" fill="#37525f" stroke="none" stroke-width="0" />
<polygon points="421.70,742.50 427.70,742.50 424.70,747.70" fill="#37525f" stroke="none" stroke-width="0" />
<line x1="424.70" y1="819.80" x2="424.70" y2="826.30" stroke="#000" stroke-width="1.9" />
<text transform="translate(428.90,836.40) rotate(-45)" font-size="11.2" font-weight="bold" text-anchor="end">dB2R</text>
<rect x="441.40" y="737.72" width="13.2" height="82.08" fill="#fff" stroke="#4e1470" stroke-width="2.4"/>
<line x1="448.00" y1="724.38" x2="448.00" y2="747.98" stroke="#4e1470" stroke-width="1.8" />
<line x1="444.20" y1="724.38" x2="451.80" y2="724.38" stroke="#4e1470" stroke-width="1.9" />
<line x1="444.20" y1="747.98" x2="451.80" y2="747.98" stroke="#4e1470" stroke-width="1.9" />
<polygon points="445.00,727.81 451.00,727.81 448.00,722.61" fill="#4e1470" stroke="none" stroke-width="0" />
<polygon points="447.00,740.12 453.00,740.12 450.00,734.92" fill="#4e1470" stroke="none" stroke-width="0" />
<polygon points="445.00,750.38 451.00,750.38 448.00,745.18" fill="#4e1470" stroke="none" stroke-width="0" />
<line x1="448.00" y1="819.80" x2="448.00" y2="826.30" stroke="#000" stroke-width="1.9" />
<text transform="translate(452.20,836.40) rotate(-45)" font-size="11.2" font-weight="bold" text-anchor="end">dBTF</text>
<text transform="translate(262.3,743.8) rotate(-90)" font-size="12.7" font-weight="bold" text-anchor="middle"><tspan font-style="italic">Ifn β</tspan> (fold induction)</text>
<text x="413.00" y="705.80" font-size="7.6" text-anchor="start" fill="#333" >p&lt;0.0001</text>
<text x="437.00" y="717.10" font-size="7.6" text-anchor="start" fill="#333" >p&lt;0.0001</text>
<line x1="508.00" y1="665.30" x2="508.00" y2="820.30" stroke="#000" stroke-width="2.2" />
<line x1="506.90" y1="819.20" x2="680.20" y2="819.20" stroke="#000" stroke-width="2.2" />
<line x1="502.00" y1="819.20" x2="508.00" y2="819.20" stroke="#000" stroke-width="2.0" />
<text x="499.40" y="823.80" font-size="11.5" font-weight="bold" text-anchor="end" fill="#000" >0</text>
<line x1="502.00" y1="780.88" x2="508.00" y2="780.88" stroke="#000" stroke-width="2.0" />
<text x="499.40" y="785.48" font-size="11.5" font-weight="bold" text-anchor="end" fill="#000" >2</text>
<line x1="502.00" y1="742.55" x2="508.00" y2="742.55" stroke="#000" stroke-width="2.0" />
<text x="499.40" y="747.15" font-size="11.5" font-weight="bold" text-anchor="end" fill="#000" >4</text>
<line x1="502.00" y1="704.23" x2="508.00" y2="704.23" stroke="#000" stroke-width="2.0" />
<text x="499.40" y="708.83" font-size="11.5" font-weight="bold" text-anchor="end" fill="#000" >6</text>
<line x1="502.00" y1="665.90" x2="508.00" y2="665.90" stroke="#000" stroke-width="2.0" />
<text x="499.40" y="670.50" font-size="11.5" font-weight="bold" text-anchor="end" fill="#000" >8</text>
<rect x="517.20" y="800.04" width="13.2" height="19.16" fill="#fff" stroke="#333333" stroke-width="2.4"/>
<line x1="523.80" y1="799.08" x2="523.80" y2="801.00" stroke="#333333" stroke-width="1.8" />
<line x1="520.00" y1="799.08" x2="527.60" y2="799.08" stroke="#333333" stroke-width="1.9" />
<line x1="520.00" y1="801.00" x2="527.60" y2="801.00" stroke="#333333" stroke-width="1.9" />
<circle cx="520.80" cy="800.04" r="2.1" fill="#333333"/>
<circle cx="526.80" cy="800.04" r="2.1" fill="#333333"/>
<circle cx="523.80" cy="799.65" r="2.1" fill="#333333"/>
<line x1="523.80" y1="819.20" x2="523.80" y2="825.70" stroke="#000" stroke-width="1.9" />
<text transform="translate(528.00,835.80) rotate(-45)" font-size="11.2" font-weight="bold" text-anchor="end">Mock</text>
<rect x="540.40" y="793.33" width="13.2" height="25.87" fill="#fff" stroke="#111111" stroke-width="2.4"/>
<line x1="547.00" y1="789.50" x2="547.00" y2="798.12" stroke="#111111" stroke-width="1.8" />
<line x1="543.20" y1="789.50" x2="550.80" y2="789.50" stroke="#111111" stroke-width="1.9" />
<line x1="543.20" y1="798.12" x2="550.80" y2="798.12" stroke="#111111" stroke-width="1.9" />
<circle cx="544.00" cy="793.33" r="2.1" fill="#111111"/>
<circle cx="550.00" cy="790.46" r="2.1" fill="#111111"/>
<circle cx="547.00" cy="796.21" r="2.1" fill="#111111"/>
<line x1="547.00" y1="819.20" x2="547.00" y2="825.70" stroke="#000" stroke-width="1.9" />
<text transform="translate(551.20,835.80) rotate(-45)" font-size="11.2" font-weight="bold" text-anchor="end">VTT</text>
<rect x="564.30" y="803.87" width="13.2" height="15.33" fill="#fff" stroke="#8c8c2c" stroke-width="2.4"/>
<line x1="570.90" y1="800.04" x2="570.90" y2="807.70" stroke="#8c8c2c" stroke-width="1.8" />
<line x1="567.10" y1="800.04" x2="574.70" y2="800.04" stroke="#8c8c2c" stroke-width="1.9" />
<line x1="567.10" y1="807.70" x2="574.70" y2="807.70" stroke="#8c8c2c" stroke-width="1.9" />
<circle cx="567.90" cy="805.79" r="2.1" fill="#8c8c2c"/>
<circle cx="573.90" cy="802.91" r="2.1" fill="#8c8c2c"/>
<circle cx="570.90" cy="801.00" r="2.1" fill="#8c8c2c"/>
<line x1="570.90" y1="819.20" x2="570.90" y2="825.70" stroke="#000" stroke-width="1.9" />
<text transform="translate(575.10,835.80) rotate(-45)" font-size="11.2" font-weight="bold" text-anchor="end">dTK</text>
<rect x="587.60" y="801.00" width="13.2" height="18.20" fill="#fff" stroke="#44dd33" stroke-width="2.4"/>
<line x1="594.20" y1="800.04" x2="594.20" y2="801.95" stroke="#44dd33" stroke-width="1.8" />
<line x1="590.40" y1="800.04" x2="598.00" y2="800.04" stroke="#44dd33" stroke-width="1.9" />
<line x1="590.40" y1="801.95" x2="598.00" y2="801.95" stroke="#44dd33" stroke-width="1.9" />
<circle cx="591.20" cy="801.00" r="2.1" fill="#44dd33"/>
<circle cx="597.20" cy="800.61" r="2.1" fill="#44dd33"/>
<circle cx="594.20" cy="800.42" r="2.1" fill="#44dd33"/>
<line x1="594.20" y1="819.20" x2="594.20" y2="825.70" stroke="#000" stroke-width="1.9" />
<text transform="translate(598.40,835.80) rotate(-45)" font-size="11.2" font-weight="bold" text-anchor="end">dF4L</text>
<rect x="610.90" y="798.12" width="13.2" height="21.08" fill="#fff" stroke="#fb6a36" stroke-width="2.4"/>
<line x1="617.50" y1="791.41" x2="617.50" y2="802.91" stroke="#fb6a36" stroke-width="1.8" />
<line x1="613.70" y1="791.41" x2="621.30" y2="791.41" stroke="#fb6a36" stroke-width="1.9" />
<line x1="613.70" y1="802.91" x2="621.30" y2="802.91" stroke="#fb6a36" stroke-width="1.9" />
<circle cx="614.50" cy="800.04" r="2.1" fill="#fb6a36"/>
<circle cx="620.50" cy="798.12" r="2.1" fill="#fb6a36"/>
<circle cx="617.50" cy="793.33" r="2.1" fill="#fb6a36"/>
<line x1="617.50" y1="819.20" x2="617.50" y2="825.70" stroke="#000" stroke-width="1.9" />
<text transform="translate(621.70,835.80) rotate(-45)" font-size="11.2" font-weight="bold" text-anchor="end">dTF</text>
<rect x="634.40" y="715.72" width="13.2" height="103.48" fill="#fff" stroke="#37525f" stroke-width="2.4"/>
<line x1="641.00" y1="702.31" x2="641.00" y2="729.14" stroke="#37525f" stroke-width="1.8" />
<line x1="637.20" y1="702.31" x2="644.80" y2="702.31" stroke="#37525f" stroke-width="1.9" />
<line x1="637.20" y1="729.14" x2="644.80" y2="729.14" stroke="#37525f" stroke-width="1.9" />
<polygon points="634.00,703.74 640.00,703.74 637.00,708.94" fill="#37525f" stroke="none" stroke-width="0" />
<polygon points="642.00,703.74 648.00,703.74 645.00,708.94" fill="#37525f" stroke="none" stroke-width="0" />
<polygon points="638.00,726.74 644.00,726.74 641.00,731.94" fill="#37525f" stroke="none" stroke-width="0" />
<line x1="641.00" y1="819.20" x2="641.00" y2="825.70" stroke="#000" stroke-width="1.9" />
<text transform="translate(645.20,835.80) rotate(-45)" font-size="11.2" font-weight="bold" text-anchor="end">dB2R</text>
<rect x="657.90" y="717.64" width="13.2" height="101.56" fill="#fff" stroke="#4e1470" stroke-width="2.4"/>
<line x1="664.50" y1="716.68" x2="664.50" y2="718.60" stroke="#4e1470" stroke-width="1.8" />
<line x1="660.70" y1="716.68" x2="668.30" y2="716.68" stroke="#4e1470" stroke-width="1.9" />
<line x1="660.70" y1="718.60" x2="668.30" y2="718.60" stroke="#4e1470" stroke-width="1.9" />
<polygon points="658.50,720.04 664.50,720.04 661.50,714.84" fill="#4e1470" stroke="none" stroke-width="0" />
<polygon points="664.50,719.66 670.50,719.66 667.50,714.46" fill="#4e1470" stroke="none" stroke-width="0" />
<polygon points="661.50,719.08 667.50,719.08 664.50,713.88" fill="#4e1470" stroke="none" stroke-width="0" />
<line x1="664.50" y1="819.20" x2="664.50" y2="825.70" stroke="#000" stroke-width="1.9" />
<text transform="translate(668.70,835.80) rotate(-45)" font-size="11.2" font-weight="bold" text-anchor="end">dBTF</text>
<text transform="translate(487.0,743.5) rotate(-90)" font-size="12.7" font-weight="bold" text-anchor="middle"><tspan font-style="italic">Isg56</tspan> (fold induction)</text>
<text x="627.00" y="695.80" font-size="7.6" text-anchor="start" fill="#333" >p&lt;0.0001</text>
<text x="653.30" y="710.50" font-size="7.6" text-anchor="start" fill="#333" >p&lt;0.0001</text>
</svg></body></html>
